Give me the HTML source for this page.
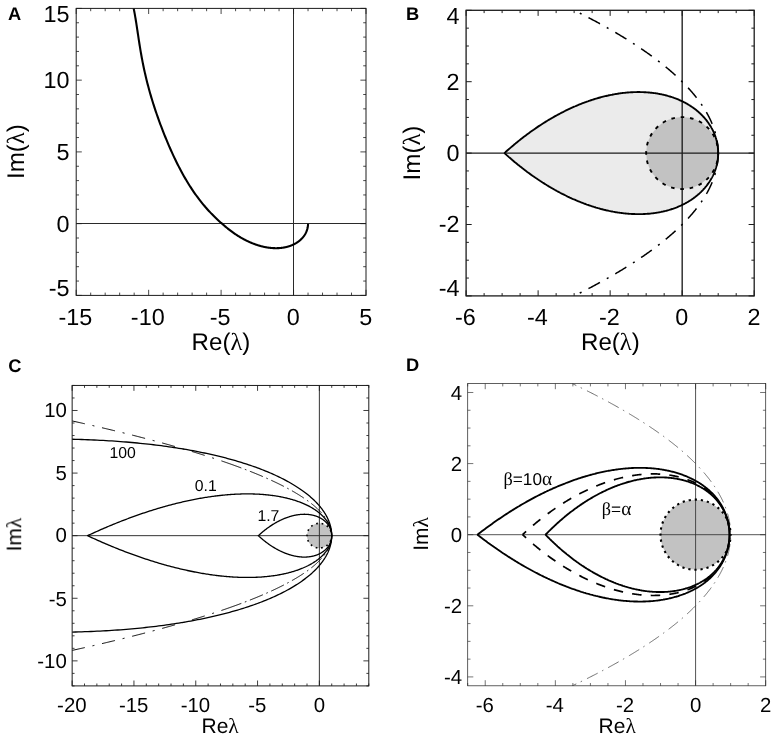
<!DOCTYPE html>
<html lang="en"><head><meta charset="utf-8"><title>Figure</title>
<style>html,body{margin:0;padding:0;background:#fff;}body{width:776px;height:740px;overflow:hidden;}svg{display:block;}</style>
</head><body>
<svg width="776" height="740" viewBox="0 0 776 740">
<defs>
<clipPath id="clipA"><rect x="76.2" y="8.4" width="289.80" height="287.00"/></clipPath>
<clipPath id="clipB"><rect x="466.1" y="10.3" width="288.10" height="285.60"/></clipPath>
<clipPath id="clipC"><rect x="72.15" y="385.45" width="296.65" height="300.45"/></clipPath>
<clipPath id="clipD"><rect x="467.7" y="383.6" width="298.00" height="302.20"/></clipPath>
</defs>
<rect width="776" height="740" fill="#fff"/>
<g id="panelA">
<g clip-path="url(#clipA)">
<path d="M76.2,223.5H366.0M293.5,8.4V295.4" stroke="#2a2a2a" stroke-width="1.0" fill="none"/>
<path d="M308.04,223.65 L308.04,223.81 L308.04,223.98 L308.03,224.14 L308.03,224.30 L308.02,224.46 L308.02,224.63 L308.01,224.79 L308.00,224.95 L307.99,225.11 L307.97,225.28 L307.96,225.44 L307.95,225.60 L307.93,225.76 L307.91,225.93 L307.89,226.09 L307.87,226.25 L307.85,226.41 L307.83,226.58 L307.80,226.74 L307.78,226.90 L307.75,227.06 L307.72,227.22 L307.69,227.38 L307.66,227.54 L307.63,227.70 L307.60,227.87 L307.56,228.03 L307.52,228.19 L307.49,228.35 L307.45,228.51 L307.41,228.67 L307.37,228.83 L307.32,228.99 L307.28,229.14 L307.23,229.30 L307.19,229.46 L307.14,229.62 L307.09,229.78 L307.04,229.94 L306.99,230.10 L306.94,230.25 L306.88,230.41 L306.83,230.57 L306.77,230.72 L306.71,230.88 L306.65,231.04 L306.59,231.19 L306.53,231.35 L306.46,231.50 L306.40,231.66 L306.33,231.81 L306.27,231.97 L306.20,232.12 L306.13,232.27 L306.06,232.43 L305.98,232.58 L305.91,232.73 L305.83,232.88 L305.76,233.04 L305.68,233.19 L305.60,233.34 L305.52,233.49 L305.44,233.64 L305.36,233.79 L305.27,233.94 L305.19,234.09 L305.10,234.24 L305.01,234.38 L304.92,234.53 L304.83,234.68 L304.74,234.83 L304.65,234.97 L304.55,235.12 L304.46,235.26 L304.36,235.41 L304.26,235.55 L304.16,235.70 L304.06,235.84 L303.96,235.98 L303.86,236.13 L303.75,236.27 L303.65,236.41 L303.54,236.55 L303.43,236.69 L303.32,236.83 L303.21,236.97 L303.10,237.11 L302.99,237.25 L302.87,237.38 L302.76,237.52 L302.64,237.66 L302.52,237.79 L302.40,237.93 L302.28,238.06 L302.16,238.20 L302.04,238.33 L301.91,238.46 L301.79,238.59 L301.66,238.73 L301.53,238.86 L301.40,238.99 L301.27,239.12 L301.14,239.25 L301.01,239.37 L300.87,239.50 L300.74,239.63 L300.60,239.75 L300.46,239.88 L300.32,240.01 L300.18,240.13 L300.04,240.25 L299.90,240.38 L299.76,240.50 L299.61,240.62 L299.46,240.74 L299.32,240.86 L299.17,240.98 L299.02,241.10 L298.87,241.21 L298.71,241.33 L298.56,241.45 L298.41,241.56 L298.25,241.68 L298.09,241.79 L297.94,241.90 L297.78,242.02 L297.62,242.13 L297.45,242.24 L297.29,242.35 L297.13,242.46 L296.96,242.57 L296.80,242.67 L296.63,242.78 L296.46,242.88 L296.29,242.99 L296.12,243.09 L295.95,243.20 L295.77,243.30 L295.60,243.40 L295.42,243.50 L295.25,243.60 L295.07,243.70 L294.89,243.80 L294.71,243.89 L294.53,243.99 L294.35,244.08 L294.16,244.18 L293.98,244.27 L293.79,244.36 L293.61,244.45 L293.42,244.54 L293.23,244.63 L293.04,244.72 L292.85,244.81 L292.66,244.90 L292.46,244.98 L292.27,245.07 L292.07,245.15 L291.88,245.23 L291.68,245.31 L291.48,245.39 L291.28,245.47 L291.08,245.55 L290.88,245.63 L290.67,245.70 L290.47,245.78 L290.26,245.85 L290.06,245.93 L289.85,246.00 L289.64,246.07 L289.43,246.14 L289.22,246.21 L289.01,246.28 L288.79,246.34 L288.58,246.41 L288.37,246.47 L288.15,246.54 L287.93,246.60 L287.72,246.66 L287.50,246.72 L287.28,246.78 L287.06,246.84 L286.83,246.90 L286.61,246.95 L286.39,247.01 L286.16,247.06 L285.94,247.11 L285.71,247.16 L285.48,247.21 L285.25,247.26 L285.02,247.31 L284.79,247.36 L284.56,247.40 L284.32,247.44 L284.09,247.49 L283.86,247.53 L283.62,247.57 L283.38,247.61 L283.14,247.65 L282.91,247.68 L282.67,247.72 L282.43,247.75 L282.18,247.78 L281.94,247.82 L281.70,247.85 L281.45,247.88 L281.21,247.90 L280.96,247.93 L280.71,247.96 L280.47,247.98 L280.22,248.00 L279.97,248.02 L279.71,248.04 L279.46,248.06 L279.21,248.08 L278.96,248.10 L278.70,248.11 L278.45,248.12 L278.19,248.14 L277.93,248.15 L277.67,248.16 L277.42,248.16 L277.16,248.17 L276.89,248.18 L276.63,248.18 L276.37,248.18 L276.11,248.18 L275.84,248.18 L275.58,248.18 L275.31,248.18 L275.04,248.18 L274.78,248.17 L274.51,248.16 L274.24,248.15 L273.97,248.14 L273.70,248.13 L273.43,248.12 L273.15,248.11 L272.88,248.09 L272.61,248.07 L272.33,248.05 L272.05,248.03 L271.78,248.01 L271.50,247.99 L271.22,247.97 L270.94,247.94 L270.66,247.91 L270.38,247.88 L270.10,247.85 L269.82,247.82 L269.54,247.79 L269.25,247.75 L268.97,247.72 L268.68,247.68 L268.40,247.64 L268.11,247.60 L267.82,247.55 L267.54,247.51 L267.25,247.46 L266.96,247.42 L266.67,247.37 L266.38,247.32 L266.09,247.27 L265.79,247.21 L265.50,247.16 L265.21,247.10 L264.91,247.04 L264.62,246.98 L264.32,246.92 L264.03,246.86 L263.73,246.79 L263.43,246.73 L263.13,246.66 L262.83,246.59 L262.53,246.52 L262.23,246.45 L261.93,246.37 L261.63,246.30 L261.33,246.22 L261.03,246.14 L260.72,246.06 L260.42,245.97 L260.11,245.89 L259.81,245.80 L259.50,245.72 L259.20,245.63 L258.89,245.54 L258.58,245.44 L258.27,245.35 L257.96,245.25 L257.65,245.16 L257.34,245.06 L257.03,244.96 L256.72,244.85 L256.41,244.75 L256.10,244.64 L255.79,244.53 L255.47,244.42 L255.16,244.31 L254.85,244.20 L254.53,244.08 L254.21,243.97 L253.90,243.85 L253.58,243.73 L253.27,243.61 L252.95,243.48 L252.63,243.36 L252.31,243.23 L251.99,243.10 L251.67,242.97 L251.35,242.84 L251.03,242.70 L250.71,242.56 L250.39,242.43 L250.07,242.29 L249.75,242.14 L249.43,242.00 L249.10,241.86 L248.78,241.71 L248.46,241.56 L248.13,241.41 L247.81,241.26 L247.48,241.10 L247.16,240.94 L246.83,240.79 L246.51,240.63 L246.18,240.46 L245.85,240.30 L245.52,240.13 L245.20,239.97 L244.87,239.80 L244.54,239.63 L244.21,239.45 L243.88,239.28 L243.55,239.10 L243.22,238.92 L242.89,238.74 L242.56,238.56 L242.23,238.37 L241.90,238.19 L241.57,238.00 L241.24,237.81 L240.91,237.62 L240.58,237.42 L240.24,237.22 L239.91,237.03 L239.58,236.83 L239.24,236.62 L238.91,236.42 L238.58,236.21 L238.24,236.01 L237.91,235.80 L237.57,235.58 L237.24,235.37 L236.91,235.16 L236.57,234.94 L236.23,234.72 L235.90,234.50 L235.56,234.27 L235.23,234.05 L234.89,233.82 L234.56,233.59 L234.22,233.36 L233.88,233.12 L233.55,232.89 L233.21,232.65 L232.87,232.41 L232.53,232.17 L232.20,231.93 L231.86,231.68 L231.52,231.43 L231.18,231.18 L230.85,230.93 L230.51,230.68 L230.17,230.42 L229.83,230.16 L229.49,229.90 L229.16,229.64 L228.82,229.37 L228.48,229.11 L228.14,228.84 L227.80,228.57 L227.46,228.30 L227.12,228.02 L226.79,227.75 L226.45,227.47 L226.11,227.19 L225.77,226.90 L225.43,226.62 L225.09,226.33 L224.75,226.04 L224.42,225.75 L224.08,225.46 L223.74,225.16 L223.40,224.86 L223.06,224.56 L222.72,224.26 L222.38,223.96 L222.04,223.65 L221.13,222.92 L220.30,222.18 L219.49,221.45 L218.68,220.71 L217.89,219.98 L217.10,219.24 L216.33,218.51 L215.56,217.78 L214.81,217.04 L214.06,216.31 L213.32,215.57 L212.60,214.84 L211.88,214.10 L211.17,213.37 L210.47,212.64 L209.78,211.90 L209.10,211.17 L208.42,210.43 L207.75,209.70 L207.10,208.96 L206.45,208.23 L205.80,207.50 L205.17,206.76 L204.54,206.03 L203.92,205.29 L203.30,204.56 L202.70,203.82 L202.10,203.09 L201.51,202.36 L200.92,201.62 L200.34,200.89 L199.77,200.15 L199.20,199.42 L198.64,198.68 L198.09,197.95 L197.54,197.22 L197.00,196.48 L196.46,195.75 L195.93,195.01 L195.40,194.28 L194.88,193.54 L194.37,192.81 L193.86,192.08 L193.35,191.34 L192.86,190.61 L192.36,189.87 L191.87,189.14 L191.39,188.40 L190.91,187.67 L190.43,186.94 L189.96,186.20 L189.49,185.47 L189.03,184.73 L188.57,184.00 L188.12,183.26 L187.67,182.53 L187.22,181.80 L186.78,181.06 L186.34,180.33 L185.91,179.59 L185.48,178.86 L185.05,178.12 L184.63,177.39 L184.21,176.65 L183.79,175.92 L183.38,175.19 L182.97,174.45 L182.56,173.72 L182.16,172.98 L181.76,172.25 L181.36,171.51 L180.96,170.78 L180.57,170.05 L180.18,169.31 L179.80,168.58 L179.41,167.84 L179.03,167.11 L178.66,166.37 L178.28,165.64 L177.91,164.91 L177.54,164.17 L177.17,163.44 L176.81,162.70 L176.44,161.97 L176.08,161.23 L175.73,160.50 L175.37,159.77 L175.02,159.03 L174.66,158.30 L174.32,157.56 L173.97,156.83 L173.62,156.09 L173.28,155.36 L172.94,154.63 L172.60,153.89 L172.26,153.16 L171.93,152.42 L171.60,151.69 L171.26,150.95 L170.94,150.22 L170.61,149.49 L170.28,148.75 L169.96,148.02 L169.64,147.28 L169.32,146.55 L169.00,145.81 L168.68,145.08 L168.37,144.35 L168.05,143.61 L167.74,142.88 L167.43,142.14 L167.12,141.41 L166.81,140.67 L166.51,139.94 L166.20,139.21 L165.90,138.47 L165.60,137.74 L165.30,137.00 L165.00,136.27 L164.71,135.53 L164.41,134.80 L164.12,134.07 L163.83,133.33 L163.54,132.60 L163.25,131.86 L162.96,131.13 L162.68,130.39 L162.39,129.66 L162.11,128.93 L161.83,128.19 L161.55,127.46 L161.27,126.72 L160.99,125.99 L160.72,125.25 L160.44,124.52 L160.17,123.79 L159.90,123.05 L159.63,122.32 L159.36,121.58 L159.09,120.85 L158.83,120.11 L158.56,119.38 L158.30,118.65 L158.04,117.91 L157.78,117.18 L157.52,116.44 L157.26,115.71 L157.01,114.97 L156.75,114.24 L156.50,113.51 L156.25,112.77 L156.00,112.04 L155.75,111.30 L155.50,110.57 L155.26,109.83 L155.01,109.10 L154.77,108.37 L154.53,107.63 L154.29,106.90 L154.05,106.16 L153.82,105.43 L153.58,104.69 L153.35,103.96 L153.12,103.23 L152.89,102.49 L152.66,101.76 L152.43,101.02 L152.20,100.29 L151.98,99.55 L151.76,98.82 L151.53,98.09 L151.31,97.35 L151.10,96.62 L150.88,95.88 L150.66,95.15 L150.45,94.41 L150.24,93.68 L150.03,92.95 L149.82,92.21 L149.61,91.48 L149.41,90.74 L149.20,90.01 L149.00,89.27 L148.80,88.54 L148.60,87.80 L148.40,87.07 L148.21,86.34 L148.01,85.60 L147.82,84.87 L147.63,84.13 L147.44,83.40 L147.25,82.66 L147.06,81.93 L146.88,81.20 L146.70,80.46 L146.51,79.73 L146.33,78.99 L146.16,78.26 L145.98,77.52 L145.80,76.79 L145.63,76.06 L145.46,75.32 L145.29,74.59 L145.12,73.85 L144.95,73.12 L144.78,72.38 L144.62,71.65 L144.46,70.92 L144.30,70.18 L144.14,69.45 L143.98,68.71 L143.82,67.98 L143.67,67.24 L143.51,66.51 L143.36,65.78 L143.21,65.04 L143.06,64.31 L142.92,63.57 L142.77,62.84 L142.62,62.10 L142.48,61.37 L142.34,60.64 L142.20,59.90 L142.06,59.17 L141.92,58.43 L141.78,57.70 L141.65,56.96 L141.52,56.23 L141.38,55.50 L141.25,54.76 L141.12,54.03 L140.99,53.29 L140.86,52.56 L140.74,51.82 L140.61,51.09 L140.49,50.36 L140.36,49.62 L140.24,48.89 L140.12,48.15 L140.00,47.42 L139.88,46.68 L139.76,45.95 L139.64,45.22 L139.53,44.48 L139.41,43.75 L139.29,43.01 L139.18,42.28 L139.06,41.54 L138.95,40.81 L138.84,40.08 L138.72,39.34 L138.61,38.61 L138.50,37.87 L138.39,37.14 L138.28,36.40 L138.17,35.67 L138.06,34.94 L137.95,34.20 L137.84,33.47 L137.73,32.73 L137.62,32.00 L137.51,31.26 L137.40,30.53 L137.29,29.80 L137.18,29.06 L137.07,28.33 L136.95,27.59 L136.84,26.86 L136.73,26.12 L136.62,25.39 L136.50,24.66 L136.39,23.92 L136.28,23.19 L136.16,22.45 L136.04,21.72 L135.93,20.98 L135.81,20.25 L135.69,19.52 L135.57,18.78 L135.44,18.05 L135.32,17.31 L135.19,16.58 L135.07,15.84 L134.94,15.11 L134.81,14.38 L134.68,13.64 L134.54,12.91 L134.40,12.17 L134.27,11.44 L134.13,10.70 L133.98,9.97 L133.84,9.24 L133.69,8.50 L133.54,7.77 L133.38,7.03 L133.23,6.30 L133.07,5.56 L132.90,4.83 L132.74,4.09" fill="none" stroke="#000" stroke-width="2.1" stroke-linejoin="round"/>
</g>
<rect x="76.2" y="8.4" width="289.80" height="287.00" fill="none" stroke="#1c1c1c" stroke-width="1.0"/>
<path d="M76.20,295.4v-5.6M76.20,8.4v5.6M148.65,295.4v-5.6M148.65,8.4v5.6M221.10,295.4v-5.6M221.10,8.4v5.6M293.55,295.4v-5.6M293.55,8.4v5.6M366.00,295.4v-5.6M366.00,8.4v5.6M90.69,295.4v-2.8M90.69,8.4v2.8M105.18,295.4v-2.8M105.18,8.4v2.8M119.67,295.4v-2.8M119.67,8.4v2.8M134.16,295.4v-2.8M134.16,8.4v2.8M163.14,295.4v-2.8M163.14,8.4v2.8M177.63,295.4v-2.8M177.63,8.4v2.8M192.12,295.4v-2.8M192.12,8.4v2.8M206.61,295.4v-2.8M206.61,8.4v2.8M235.59,295.4v-2.8M235.59,8.4v2.8M250.08,295.4v-2.8M250.08,8.4v2.8M264.57,295.4v-2.8M264.57,8.4v2.8M279.06,295.4v-2.8M279.06,8.4v2.8M308.04,295.4v-2.8M308.04,8.4v2.8M322.53,295.4v-2.8M322.53,8.4v2.8M337.02,295.4v-2.8M337.02,8.4v2.8M351.51,295.4v-2.8M351.51,8.4v2.8M76.2,295.40h5.6M366.0,295.40h-5.6M76.2,223.65h5.6M366.0,223.65h-5.6M76.2,151.90h5.6M366.0,151.90h-5.6M76.2,80.15h5.6M366.0,80.15h-5.6M76.2,8.40h5.6M366.0,8.40h-5.6M76.2,281.05h2.8M366.0,281.05h-2.8M76.2,266.70h2.8M366.0,266.70h-2.8M76.2,252.35h2.8M366.0,252.35h-2.8M76.2,238.00h2.8M366.0,238.00h-2.8M76.2,209.30h2.8M366.0,209.30h-2.8M76.2,194.95h2.8M366.0,194.95h-2.8M76.2,180.60h2.8M366.0,180.60h-2.8M76.2,166.25h2.8M366.0,166.25h-2.8M76.2,137.55h2.8M366.0,137.55h-2.8M76.2,123.20h2.8M366.0,123.20h-2.8M76.2,108.85h2.8M366.0,108.85h-2.8M76.2,94.50h2.8M366.0,94.50h-2.8M76.2,65.80h2.8M366.0,65.80h-2.8M76.2,51.45h2.8M366.0,51.45h-2.8M76.2,37.10h2.8M366.0,37.10h-2.8M76.2,22.75h2.8M366.0,22.75h-2.8" fill="none" stroke="#1c1c1c" stroke-width="0.8"/>
</g>
<g id="panelB">
<g clip-path="url(#clipB)">
<path d="M504.46,153.10 L505.58,152.08 L506.71,151.07 L507.83,150.08 L508.95,149.09 L510.08,148.11 L511.20,147.14 L512.32,146.18 L513.45,145.24 L514.57,144.29 L515.69,143.36 L516.82,142.44 L517.94,141.53 L519.06,140.63 L520.18,139.73 L521.31,138.85 L522.43,137.97 L523.55,137.10 L524.67,136.25 L525.79,135.40 L526.91,134.56 L528.03,133.73 L529.15,132.91 L530.27,132.09 L531.39,131.29 L532.51,130.49 L533.63,129.71 L534.74,128.93 L535.86,128.16 L536.97,127.41 L538.09,126.65 L539.20,125.91 L540.31,125.18 L541.42,124.46 L542.53,123.74 L543.64,123.04 L544.75,122.34 L545.86,121.65 L546.97,120.97 L548.07,120.30 L549.18,119.63 L550.28,118.98 L551.38,118.33 L552.48,117.70 L553.58,117.07 L554.68,116.45 L555.77,115.84 L556.87,115.23 L557.96,114.64 L559.05,114.05 L560.14,113.47 L561.23,112.90 L562.32,112.34 L563.41,111.79 L564.49,111.24 L565.57,110.71 L566.65,110.18 L567.73,109.66 L568.81,109.15 L569.89,108.64 L570.96,108.15 L572.03,107.66 L573.10,107.18 L574.17,106.71 L575.24,106.25 L576.30,105.79 L577.36,105.34 L578.42,104.91 L579.48,104.47 L580.54,104.05 L581.59,103.64 L582.64,103.23 L583.69,102.83 L584.74,102.44 L585.78,102.05 L586.83,101.67 L587.87,101.31 L588.91,100.94 L589.94,100.59 L590.97,100.24 L592.00,99.91 L593.03,99.58 L594.06,99.25 L595.08,98.94 L596.10,98.63 L597.12,98.33 L598.14,98.03 L599.15,97.75 L600.16,97.47 L601.17,97.20 L602.17,96.94 L603.17,96.68 L604.17,96.43 L605.17,96.19 L606.16,95.95 L607.15,95.73 L608.14,95.51 L609.12,95.29 L610.10,95.09 L611.08,94.89 L612.06,94.70 L613.03,94.51 L614.00,94.33 L614.97,94.16 L615.93,94.00 L616.89,93.84 L617.85,93.69 L618.80,93.55 L619.75,93.41 L620.70,93.28 L621.64,93.16 L622.58,93.04 L623.52,92.93 L624.45,92.83 L625.38,92.73 L626.31,92.64 L627.23,92.56 L628.15,92.48 L629.07,92.41 L629.98,92.35 L630.89,92.29 L631.80,92.24 L632.70,92.20 L633.60,92.16 L634.50,92.13 L635.39,92.10 L636.28,92.08 L637.16,92.07 L638.04,92.06 L638.92,92.06 L639.79,92.07 L640.66,92.08 L641.52,92.10 L642.38,92.12 L643.24,92.15 L644.10,92.19 L644.94,92.23 L645.79,92.28 L646.63,92.33 L647.47,92.39 L648.30,92.45 L649.13,92.52 L649.96,92.60 L650.78,92.68 L651.60,92.77 L652.41,92.87 L653.22,92.97 L654.02,93.07 L654.82,93.18 L655.62,93.30 L656.41,93.42 L657.20,93.55 L657.98,93.68 L658.76,93.82 L659.54,93.96 L660.31,94.11 L661.08,94.26 L661.84,94.42 L662.60,94.58 L663.35,94.75 L664.10,94.93 L664.84,95.11 L665.58,95.29 L666.32,95.48 L667.05,95.68 L667.77,95.88 L668.50,96.08 L669.21,96.29 L669.93,96.51 L670.63,96.73 L671.34,96.95 L672.03,97.18 L672.73,97.41 L673.42,97.65 L674.10,97.90 L674.78,98.14 L675.46,98.40 L676.13,98.65 L676.79,98.91 L677.45,99.18 L678.11,99.45 L678.76,99.73 L679.41,100.01 L680.05,100.29 L680.69,100.58 L681.32,100.87 L681.94,101.17 L682.57,101.47 L683.18,101.77 L683.80,102.08 L684.40,102.40 L685.00,102.71 L685.60,103.03 L686.19,103.36 L686.78,103.69 L687.36,104.02 L687.94,104.36 L688.51,104.70 L689.08,105.05 L689.64,105.39 L690.20,105.75 L690.75,106.10 L691.29,106.46 L691.83,106.83 L692.37,107.19 L692.90,107.56 L693.43,107.94 L693.95,108.32 L694.46,108.70 L694.97,109.08 L695.48,109.47 L695.98,109.86 L696.47,110.26 L696.96,110.66 L697.44,111.06 L697.92,111.46 L698.39,111.87 L698.86,112.28 L699.32,112.69 L699.78,113.11 L700.23,113.53 L700.68,113.95 L701.12,114.38 L701.55,114.81 L701.98,115.24 L702.41,115.68 L702.83,116.11 L703.24,116.55 L703.65,117.00 L704.05,117.44 L704.45,117.89 L704.84,118.34 L705.23,118.80 L705.61,119.25 L705.98,119.71 L706.35,120.17 L706.71,120.63 L707.07,121.10 L707.43,121.57 L707.77,122.04 L708.12,122.51 L708.45,122.99 L708.78,123.47 L709.11,123.94 L709.43,124.43 L709.74,124.91 L710.05,125.40 L710.35,125.88 L710.65,126.37 L710.94,126.87 L711.22,127.36 L711.50,127.86 L711.78,128.35 L712.05,128.85 L712.31,129.35 L712.57,129.86 L712.82,130.36 L713.07,130.87 L713.31,131.37 L713.54,131.88 L713.77,132.39 L713.99,132.91 L714.21,133.42 L714.42,133.93 L714.63,134.45 L714.83,134.97 L715.02,135.49 L715.21,136.01 L715.39,136.53 L715.57,137.05 L715.74,137.58 L715.91,138.10 L716.07,138.63 L716.22,139.16 L716.37,139.68 L716.51,140.21 L716.65,140.74 L716.78,141.27 L716.90,141.81 L717.02,142.34 L717.14,142.87 L717.24,143.41 L717.35,143.94 L717.44,144.48 L717.53,145.01 L717.62,145.55 L717.70,146.09 L717.77,146.62 L717.83,147.16 L717.90,147.70 L717.95,148.24 L718.00,148.78 L718.04,149.32 L718.08,149.86 L718.11,150.40 L718.14,150.94 L718.16,151.48 L718.18,152.02 L718.18,152.56 L718.19,153.10 L718.18,153.64 L718.18,154.18 L718.16,154.72 L718.14,155.26 L718.11,155.80 L718.08,156.34 L718.04,156.88 L718.00,157.42 L717.95,157.96 L717.90,158.50 L717.83,159.04 L717.77,159.58 L717.70,160.11 L717.62,160.65 L717.53,161.19 L717.44,161.72 L717.35,162.26 L717.24,162.79 L717.14,163.33 L717.02,163.86 L716.90,164.39 L716.78,164.93 L716.65,165.46 L716.51,165.99 L716.37,166.52 L716.22,167.04 L716.07,167.57 L715.91,168.10 L715.74,168.62 L715.57,169.15 L715.39,169.67 L715.21,170.19 L715.02,170.71 L714.83,171.23 L714.63,171.75 L714.42,172.27 L714.21,172.78 L713.99,173.29 L713.77,173.81 L713.54,174.32 L713.31,174.83 L713.07,175.33 L712.82,175.84 L712.57,176.34 L712.31,176.85 L712.05,177.35 L711.78,177.85 L711.50,178.34 L711.22,178.84 L710.94,179.33 L710.65,179.83 L710.35,180.32 L710.05,180.80 L709.74,181.29 L709.43,181.77 L709.11,182.26 L708.78,182.73 L708.45,183.21 L708.12,183.69 L707.77,184.16 L707.43,184.63 L707.07,185.10 L706.71,185.57 L706.35,186.03 L705.98,186.49 L705.61,186.95 L705.23,187.40 L704.84,187.86 L704.45,188.31 L704.05,188.76 L703.65,189.20 L703.24,189.65 L702.83,190.09 L702.41,190.52 L701.98,190.96 L701.55,191.39 L701.12,191.82 L700.68,192.25 L700.23,192.67 L699.78,193.09 L699.32,193.51 L698.86,193.92 L698.39,194.33 L697.92,194.74 L697.44,195.14 L696.96,195.54 L696.47,195.94 L695.98,196.34 L695.48,196.73 L694.97,197.12 L694.46,197.50 L693.95,197.88 L693.43,198.26 L692.90,198.64 L692.37,199.01 L691.83,199.37 L691.29,199.74 L690.75,200.10 L690.20,200.45 L689.64,200.81 L689.08,201.15 L688.51,201.50 L687.94,201.84 L687.36,202.18 L686.78,202.51 L686.19,202.84 L685.60,203.17 L685.00,203.49 L684.40,203.80 L683.80,204.12 L683.18,204.43 L682.57,204.73 L681.94,205.03 L681.32,205.33 L680.69,205.62 L680.05,205.91 L679.41,206.19 L678.76,206.47 L678.11,206.75 L677.45,207.02 L676.79,207.29 L676.13,207.55 L675.46,207.80 L674.78,208.06 L674.10,208.30 L673.42,208.55 L672.73,208.79 L672.03,209.02 L671.34,209.25 L670.63,209.47 L669.93,209.69 L669.21,209.91 L668.50,210.12 L667.77,210.32 L667.05,210.52 L666.32,210.72 L665.58,210.91 L664.84,211.09 L664.10,211.27 L663.35,211.45 L662.60,211.62 L661.84,211.78 L661.08,211.94 L660.31,212.09 L659.54,212.24 L658.76,212.38 L657.98,212.52 L657.20,212.65 L656.41,212.78 L655.62,212.90 L654.82,213.02 L654.02,213.13 L653.22,213.23 L652.41,213.33 L651.60,213.43 L650.78,213.52 L649.96,213.60 L649.13,213.68 L648.30,213.75 L647.47,213.81 L646.63,213.87 L645.79,213.92 L644.94,213.97 L644.10,214.01 L643.24,214.05 L642.38,214.08 L641.52,214.10 L640.66,214.12 L639.79,214.13 L638.92,214.14 L638.04,214.14 L637.16,214.13 L636.28,214.12 L635.39,214.10 L634.50,214.07 L633.60,214.04 L632.70,214.00 L631.80,213.96 L630.89,213.91 L629.98,213.85 L629.07,213.79 L628.15,213.72 L627.23,213.64 L626.31,213.56 L625.38,213.47 L624.45,213.37 L623.52,213.27 L622.58,213.16 L621.64,213.04 L620.70,212.92 L619.75,212.79 L618.80,212.65 L617.85,212.51 L616.89,212.36 L615.93,212.20 L614.97,212.04 L614.00,211.87 L613.03,211.69 L612.06,211.50 L611.08,211.31 L610.10,211.11 L609.12,210.91 L608.14,210.69 L607.15,210.47 L606.16,210.25 L605.17,210.01 L604.17,209.77 L603.17,209.52 L602.17,209.26 L601.17,209.00 L600.16,208.73 L599.15,208.45 L598.14,208.17 L597.12,207.87 L596.10,207.57 L595.08,207.26 L594.06,206.95 L593.03,206.62 L592.00,206.29 L590.97,205.96 L589.94,205.61 L588.91,205.26 L587.87,204.89 L586.83,204.53 L585.78,204.15 L584.74,203.76 L583.69,203.37 L582.64,202.97 L581.59,202.56 L580.54,202.15 L579.48,201.73 L578.42,201.29 L577.36,200.86 L576.30,200.41 L575.24,199.95 L574.17,199.49 L573.10,199.02 L572.03,198.54 L570.96,198.05 L569.89,197.56 L568.81,197.05 L567.73,196.54 L566.65,196.02 L565.57,195.49 L564.49,194.96 L563.41,194.41 L562.32,193.86 L561.23,193.30 L560.14,192.73 L559.05,192.15 L557.96,191.56 L556.87,190.97 L555.77,190.36 L554.68,189.75 L553.58,189.13 L552.48,188.50 L551.38,187.87 L550.28,187.22 L549.18,186.57 L548.07,185.90 L546.97,185.23 L545.86,184.55 L544.75,183.86 L543.64,183.16 L542.53,182.46 L541.42,181.74 L540.31,181.02 L539.20,180.29 L538.09,179.55 L536.97,178.79 L535.86,178.04 L534.74,177.27 L533.63,176.49 L532.51,175.71 L531.39,174.91 L530.27,174.11 L529.15,173.29 L528.03,172.47 L526.91,171.64 L525.79,170.80 L524.67,169.95 L523.55,169.10 L522.43,168.23 L521.31,167.35 L520.18,166.47 L519.06,165.57 L517.94,164.67 L516.82,163.76 L515.69,162.84 L514.57,161.91 L513.45,160.96 L512.32,160.02 L511.20,159.06 L510.08,158.09 L508.95,157.11 L507.83,156.12 L506.71,155.13 L505.58,154.12 L504.46,153.10Z" fill="#ebebeb" stroke="none"/>
<circle cx="682.18" cy="153.10" r="36.01" fill="#c2c2c2" stroke="none"/>
<path d="M466.1,153.10H754.2M682.18,10.3V295.9" stroke="#1c1c1c" stroke-width="1.35" fill="none"/>
<circle cx="682.18" cy="153.10" r="36.01" fill="none" stroke="#000" stroke-width="1.9" stroke-dasharray="3.600 5.828" stroke-dashoffset="1.800"/>
<path d="M574.14,10.30 L575.29,10.87 L576.44,11.45 L577.59,12.02 L578.73,12.59 L579.86,13.17 L581.00,13.74 L582.12,14.31 L583.25,14.89 L584.36,15.46 L585.48,16.03 L586.58,16.61 L587.69,17.18 L588.79,17.76 L589.88,18.33 L590.97,18.90 L592.06,19.48 L593.14,20.05 L594.21,20.62 L595.28,21.20 L596.35,21.77 L597.41,22.34 L598.47,22.92 L599.52,23.49 L600.57,24.06 L601.61,24.64 L602.65,25.21 L603.68,25.78 L604.71,26.36 L605.74,26.93 L606.76,27.50 L607.77,28.08 L608.78,28.65 L609.79,29.23 L610.79,29.80 L611.79,30.37 L612.78,30.95 L613.77,31.52 L614.75,32.09 L615.73,32.67 L616.70,33.24 L617.67,33.81 L618.63,34.39 L619.59,34.96 L620.55,35.53 L621.50,36.11 L622.44,36.68 L623.39,37.25 L624.32,37.83 L625.25,38.40 L626.18,38.97 L627.10,39.55 L628.02,40.12 L628.93,40.70 L629.84,41.27 L630.75,41.84 L631.65,42.42 L632.54,42.99 L633.43,43.56 L634.31,44.14 L635.20,44.71 L636.07,45.28 L636.94,45.86 L637.81,46.43 L638.67,47.00 L639.53,47.58 L640.38,48.15 L641.23,48.72 L642.07,49.30 L642.91,49.87 L643.75,50.44 L644.57,51.02 L645.40,51.59 L646.22,52.17 L647.03,52.74 L647.85,53.31 L648.65,53.89 L649.45,54.46 L650.25,55.03 L651.04,55.61 L651.83,56.18 L652.61,56.75 L653.39,57.33 L654.17,57.90 L654.93,58.47 L655.70,59.05 L656.46,59.62 L657.21,60.19 L657.96,60.77 L658.71,61.34 L659.45,61.91 L660.19,62.49 L660.92,63.06 L661.65,63.63 L662.37,64.21 L663.09,64.78 L663.80,65.36 L664.51,65.93 L665.21,66.50 L665.91,67.08 L666.61,67.65 L667.30,68.22 L667.98,68.80 L668.66,69.37 L669.34,69.94 L670.01,70.52 L670.68,71.09 L671.34,71.66 L672.00,72.24 L672.65,72.81 L673.30,73.38 L673.94,73.96 L674.58,74.53 L675.21,75.10 L675.84,75.68 L676.47,76.25 L677.09,76.83 L677.71,77.40 L678.32,77.97 L678.92,78.55 L679.52,79.12 L680.12,79.69 L680.71,80.27 L681.30,80.84 L681.89,81.41 L682.46,81.99 L683.04,82.56 L683.61,83.13 L684.17,83.71 L684.73,84.28 L685.29,84.85 L685.84,85.43 L686.38,86.00 L686.92,86.57 L687.46,87.15 L687.99,87.72 L688.52,88.30 L689.04,88.87 L689.56,89.44 L690.07,90.02 L690.58,90.59 L691.09,91.16 L691.59,91.74 L692.08,92.31 L692.57,92.88 L693.06,93.46 L693.54,94.03 L694.02,94.60 L694.49,95.18 L694.95,95.75 L695.42,96.32 L695.87,96.90 L696.33,97.47 L696.78,98.04 L697.22,98.62 L697.66,99.19 L698.09,99.77 L698.52,100.34 L698.95,100.91 L699.37,101.49 L699.78,102.06 L700.20,102.63 L700.60,103.21 L701.00,103.78 L701.40,104.35 L701.79,104.93 L702.18,105.50 L702.57,106.07 L702.94,106.65 L703.32,107.22 L703.69,107.79 L704.05,108.37 L704.41,108.94 L704.77,109.51 L705.12,110.09 L705.46,110.66 L705.81,111.23 L706.14,111.81 L706.48,112.38 L706.80,112.96 L707.13,113.53 L707.44,114.10 L707.76,114.68 L708.07,115.25 L708.37,115.82 L708.67,116.40 L708.97,116.97 L709.26,117.54 L709.54,118.12 L709.82,118.69 L710.10,119.26 L710.37,119.84 L710.64,120.41 L710.90,120.98 L711.16,121.56 L711.41,122.13 L711.66,122.70 L711.91,123.28 L712.14,123.85 L712.38,124.43 L712.61,125.00 L712.83,125.57 L713.06,126.15 L713.27,126.72 L713.48,127.29 L713.69,127.87 L713.89,128.44 L714.09,129.01 L714.28,129.59 L714.47,130.16 L714.65,130.73 L714.83,131.31 L715.01,131.88 L715.18,132.45 L715.34,133.03 L715.50,133.60 L715.66,134.17 L715.81,134.75 L715.95,135.32 L716.10,135.90 L716.23,136.47 L716.37,137.04 L716.49,137.62 L716.62,138.19 L716.74,138.76 L716.85,139.34 L716.96,139.91 L717.06,140.48 L717.16,141.06 L717.26,141.63 L717.35,142.20 L717.43,142.78 L717.52,143.35 L717.59,143.92 L717.66,144.50 L717.73,145.07 L717.79,145.64 L717.85,146.22 L717.91,146.79 L717.96,147.37 L718.00,147.94 L718.04,148.51 L718.07,149.09 L718.10,149.66 L718.13,150.23 L718.15,150.81 L718.17,151.38 L718.18,151.95 L718.19,152.53 L718.19,153.10" fill="none" stroke="#000" stroke-width="1.5" stroke-dasharray="13 7.8 2 7.8" stroke-dashoffset="14.5"/>
<path d="M574.14,295.90 L575.29,295.33 L576.44,294.75 L577.59,294.18 L578.73,293.61 L579.86,293.03 L581.00,292.46 L582.12,291.89 L583.25,291.31 L584.36,290.74 L585.48,290.17 L586.58,289.59 L587.69,289.02 L588.79,288.44 L589.88,287.87 L590.97,287.30 L592.06,286.72 L593.14,286.15 L594.21,285.58 L595.28,285.00 L596.35,284.43 L597.41,283.86 L598.47,283.28 L599.52,282.71 L600.57,282.14 L601.61,281.56 L602.65,280.99 L603.68,280.42 L604.71,279.84 L605.74,279.27 L606.76,278.70 L607.77,278.12 L608.78,277.55 L609.79,276.97 L610.79,276.40 L611.79,275.83 L612.78,275.25 L613.77,274.68 L614.75,274.11 L615.73,273.53 L616.70,272.96 L617.67,272.39 L618.63,271.81 L619.59,271.24 L620.55,270.67 L621.50,270.09 L622.44,269.52 L623.39,268.95 L624.32,268.37 L625.25,267.80 L626.18,267.23 L627.10,266.65 L628.02,266.08 L628.93,265.50 L629.84,264.93 L630.75,264.36 L631.65,263.78 L632.54,263.21 L633.43,262.64 L634.31,262.06 L635.20,261.49 L636.07,260.92 L636.94,260.34 L637.81,259.77 L638.67,259.20 L639.53,258.62 L640.38,258.05 L641.23,257.48 L642.07,256.90 L642.91,256.33 L643.75,255.76 L644.57,255.18 L645.40,254.61 L646.22,254.03 L647.03,253.46 L647.85,252.89 L648.65,252.31 L649.45,251.74 L650.25,251.17 L651.04,250.59 L651.83,250.02 L652.61,249.45 L653.39,248.87 L654.17,248.30 L654.93,247.73 L655.70,247.15 L656.46,246.58 L657.21,246.01 L657.96,245.43 L658.71,244.86 L659.45,244.29 L660.19,243.71 L660.92,243.14 L661.65,242.57 L662.37,241.99 L663.09,241.42 L663.80,240.84 L664.51,240.27 L665.21,239.70 L665.91,239.12 L666.61,238.55 L667.30,237.98 L667.98,237.40 L668.66,236.83 L669.34,236.26 L670.01,235.68 L670.68,235.11 L671.34,234.54 L672.00,233.96 L672.65,233.39 L673.30,232.82 L673.94,232.24 L674.58,231.67 L675.21,231.10 L675.84,230.52 L676.47,229.95 L677.09,229.37 L677.71,228.80 L678.32,228.23 L678.92,227.65 L679.52,227.08 L680.12,226.51 L680.71,225.93 L681.30,225.36 L681.89,224.79 L682.46,224.21 L683.04,223.64 L683.61,223.07 L684.17,222.49 L684.73,221.92 L685.29,221.35 L685.84,220.77 L686.38,220.20 L686.92,219.63 L687.46,219.05 L687.99,218.48 L688.52,217.90 L689.04,217.33 L689.56,216.76 L690.07,216.18 L690.58,215.61 L691.09,215.04 L691.59,214.46 L692.08,213.89 L692.57,213.32 L693.06,212.74 L693.54,212.17 L694.02,211.60 L694.49,211.02 L694.95,210.45 L695.42,209.88 L695.87,209.30 L696.33,208.73 L696.78,208.16 L697.22,207.58 L697.66,207.01 L698.09,206.43 L698.52,205.86 L698.95,205.29 L699.37,204.71 L699.78,204.14 L700.20,203.57 L700.60,202.99 L701.00,202.42 L701.40,201.85 L701.79,201.27 L702.18,200.70 L702.57,200.13 L702.94,199.55 L703.32,198.98 L703.69,198.41 L704.05,197.83 L704.41,197.26 L704.77,196.69 L705.12,196.11 L705.46,195.54 L705.81,194.97 L706.14,194.39 L706.48,193.82 L706.80,193.24 L707.13,192.67 L707.44,192.10 L707.76,191.52 L708.07,190.95 L708.37,190.38 L708.67,189.80 L708.97,189.23 L709.26,188.66 L709.54,188.08 L709.82,187.51 L710.10,186.94 L710.37,186.36 L710.64,185.79 L710.90,185.22 L711.16,184.64 L711.41,184.07 L711.66,183.50 L711.91,182.92 L712.14,182.35 L712.38,181.77 L712.61,181.20 L712.83,180.63 L713.06,180.05 L713.27,179.48 L713.48,178.91 L713.69,178.33 L713.89,177.76 L714.09,177.19 L714.28,176.61 L714.47,176.04 L714.65,175.47 L714.83,174.89 L715.01,174.32 L715.18,173.75 L715.34,173.17 L715.50,172.60 L715.66,172.03 L715.81,171.45 L715.95,170.88 L716.10,170.30 L716.23,169.73 L716.37,169.16 L716.49,168.58 L716.62,168.01 L716.74,167.44 L716.85,166.86 L716.96,166.29 L717.06,165.72 L717.16,165.14 L717.26,164.57 L717.35,164.00 L717.43,163.42 L717.52,162.85 L717.59,162.28 L717.66,161.70 L717.73,161.13 L717.79,160.56 L717.85,159.98 L717.91,159.41 L717.96,158.83 L718.00,158.26 L718.04,157.69 L718.07,157.11 L718.10,156.54 L718.13,155.97 L718.15,155.39 L718.17,154.82 L718.18,154.25 L718.19,153.67 L718.19,153.10" fill="none" stroke="#000" stroke-width="1.5" stroke-dasharray="13 7.8 2 7.8" stroke-dashoffset="14.5"/>
<path d="M504.46,153.10 L505.58,152.08 L506.71,151.07 L507.83,150.08 L508.95,149.09 L510.08,148.11 L511.20,147.14 L512.32,146.18 L513.45,145.24 L514.57,144.29 L515.69,143.36 L516.82,142.44 L517.94,141.53 L519.06,140.63 L520.18,139.73 L521.31,138.85 L522.43,137.97 L523.55,137.10 L524.67,136.25 L525.79,135.40 L526.91,134.56 L528.03,133.73 L529.15,132.91 L530.27,132.09 L531.39,131.29 L532.51,130.49 L533.63,129.71 L534.74,128.93 L535.86,128.16 L536.97,127.41 L538.09,126.65 L539.20,125.91 L540.31,125.18 L541.42,124.46 L542.53,123.74 L543.64,123.04 L544.75,122.34 L545.86,121.65 L546.97,120.97 L548.07,120.30 L549.18,119.63 L550.28,118.98 L551.38,118.33 L552.48,117.70 L553.58,117.07 L554.68,116.45 L555.77,115.84 L556.87,115.23 L557.96,114.64 L559.05,114.05 L560.14,113.47 L561.23,112.90 L562.32,112.34 L563.41,111.79 L564.49,111.24 L565.57,110.71 L566.65,110.18 L567.73,109.66 L568.81,109.15 L569.89,108.64 L570.96,108.15 L572.03,107.66 L573.10,107.18 L574.17,106.71 L575.24,106.25 L576.30,105.79 L577.36,105.34 L578.42,104.91 L579.48,104.47 L580.54,104.05 L581.59,103.64 L582.64,103.23 L583.69,102.83 L584.74,102.44 L585.78,102.05 L586.83,101.67 L587.87,101.31 L588.91,100.94 L589.94,100.59 L590.97,100.24 L592.00,99.91 L593.03,99.58 L594.06,99.25 L595.08,98.94 L596.10,98.63 L597.12,98.33 L598.14,98.03 L599.15,97.75 L600.16,97.47 L601.17,97.20 L602.17,96.94 L603.17,96.68 L604.17,96.43 L605.17,96.19 L606.16,95.95 L607.15,95.73 L608.14,95.51 L609.12,95.29 L610.10,95.09 L611.08,94.89 L612.06,94.70 L613.03,94.51 L614.00,94.33 L614.97,94.16 L615.93,94.00 L616.89,93.84 L617.85,93.69 L618.80,93.55 L619.75,93.41 L620.70,93.28 L621.64,93.16 L622.58,93.04 L623.52,92.93 L624.45,92.83 L625.38,92.73 L626.31,92.64 L627.23,92.56 L628.15,92.48 L629.07,92.41 L629.98,92.35 L630.89,92.29 L631.80,92.24 L632.70,92.20 L633.60,92.16 L634.50,92.13 L635.39,92.10 L636.28,92.08 L637.16,92.07 L638.04,92.06 L638.92,92.06 L639.79,92.07 L640.66,92.08 L641.52,92.10 L642.38,92.12 L643.24,92.15 L644.10,92.19 L644.94,92.23 L645.79,92.28 L646.63,92.33 L647.47,92.39 L648.30,92.45 L649.13,92.52 L649.96,92.60 L650.78,92.68 L651.60,92.77 L652.41,92.87 L653.22,92.97 L654.02,93.07 L654.82,93.18 L655.62,93.30 L656.41,93.42 L657.20,93.55 L657.98,93.68 L658.76,93.82 L659.54,93.96 L660.31,94.11 L661.08,94.26 L661.84,94.42 L662.60,94.58 L663.35,94.75 L664.10,94.93 L664.84,95.11 L665.58,95.29 L666.32,95.48 L667.05,95.68 L667.77,95.88 L668.50,96.08 L669.21,96.29 L669.93,96.51 L670.63,96.73 L671.34,96.95 L672.03,97.18 L672.73,97.41 L673.42,97.65 L674.10,97.90 L674.78,98.14 L675.46,98.40 L676.13,98.65 L676.79,98.91 L677.45,99.18 L678.11,99.45 L678.76,99.73 L679.41,100.01 L680.05,100.29 L680.69,100.58 L681.32,100.87 L681.94,101.17 L682.57,101.47 L683.18,101.77 L683.80,102.08 L684.40,102.40 L685.00,102.71 L685.60,103.03 L686.19,103.36 L686.78,103.69 L687.36,104.02 L687.94,104.36 L688.51,104.70 L689.08,105.05 L689.64,105.39 L690.20,105.75 L690.75,106.10 L691.29,106.46 L691.83,106.83 L692.37,107.19 L692.90,107.56 L693.43,107.94 L693.95,108.32 L694.46,108.70 L694.97,109.08 L695.48,109.47 L695.98,109.86 L696.47,110.26 L696.96,110.66 L697.44,111.06 L697.92,111.46 L698.39,111.87 L698.86,112.28 L699.32,112.69 L699.78,113.11 L700.23,113.53 L700.68,113.95 L701.12,114.38 L701.55,114.81 L701.98,115.24 L702.41,115.68 L702.83,116.11 L703.24,116.55 L703.65,117.00 L704.05,117.44 L704.45,117.89 L704.84,118.34 L705.23,118.80 L705.61,119.25 L705.98,119.71 L706.35,120.17 L706.71,120.63 L707.07,121.10 L707.43,121.57 L707.77,122.04 L708.12,122.51 L708.45,122.99 L708.78,123.47 L709.11,123.94 L709.43,124.43 L709.74,124.91 L710.05,125.40 L710.35,125.88 L710.65,126.37 L710.94,126.87 L711.22,127.36 L711.50,127.86 L711.78,128.35 L712.05,128.85 L712.31,129.35 L712.57,129.86 L712.82,130.36 L713.07,130.87 L713.31,131.37 L713.54,131.88 L713.77,132.39 L713.99,132.91 L714.21,133.42 L714.42,133.93 L714.63,134.45 L714.83,134.97 L715.02,135.49 L715.21,136.01 L715.39,136.53 L715.57,137.05 L715.74,137.58 L715.91,138.10 L716.07,138.63 L716.22,139.16 L716.37,139.68 L716.51,140.21 L716.65,140.74 L716.78,141.27 L716.90,141.81 L717.02,142.34 L717.14,142.87 L717.24,143.41 L717.35,143.94 L717.44,144.48 L717.53,145.01 L717.62,145.55 L717.70,146.09 L717.77,146.62 L717.83,147.16 L717.90,147.70 L717.95,148.24 L718.00,148.78 L718.04,149.32 L718.08,149.86 L718.11,150.40 L718.14,150.94 L718.16,151.48 L718.18,152.02 L718.18,152.56 L718.19,153.10 L718.18,153.64 L718.18,154.18 L718.16,154.72 L718.14,155.26 L718.11,155.80 L718.08,156.34 L718.04,156.88 L718.00,157.42 L717.95,157.96 L717.90,158.50 L717.83,159.04 L717.77,159.58 L717.70,160.11 L717.62,160.65 L717.53,161.19 L717.44,161.72 L717.35,162.26 L717.24,162.79 L717.14,163.33 L717.02,163.86 L716.90,164.39 L716.78,164.93 L716.65,165.46 L716.51,165.99 L716.37,166.52 L716.22,167.04 L716.07,167.57 L715.91,168.10 L715.74,168.62 L715.57,169.15 L715.39,169.67 L715.21,170.19 L715.02,170.71 L714.83,171.23 L714.63,171.75 L714.42,172.27 L714.21,172.78 L713.99,173.29 L713.77,173.81 L713.54,174.32 L713.31,174.83 L713.07,175.33 L712.82,175.84 L712.57,176.34 L712.31,176.85 L712.05,177.35 L711.78,177.85 L711.50,178.34 L711.22,178.84 L710.94,179.33 L710.65,179.83 L710.35,180.32 L710.05,180.80 L709.74,181.29 L709.43,181.77 L709.11,182.26 L708.78,182.73 L708.45,183.21 L708.12,183.69 L707.77,184.16 L707.43,184.63 L707.07,185.10 L706.71,185.57 L706.35,186.03 L705.98,186.49 L705.61,186.95 L705.23,187.40 L704.84,187.86 L704.45,188.31 L704.05,188.76 L703.65,189.20 L703.24,189.65 L702.83,190.09 L702.41,190.52 L701.98,190.96 L701.55,191.39 L701.12,191.82 L700.68,192.25 L700.23,192.67 L699.78,193.09 L699.32,193.51 L698.86,193.92 L698.39,194.33 L697.92,194.74 L697.44,195.14 L696.96,195.54 L696.47,195.94 L695.98,196.34 L695.48,196.73 L694.97,197.12 L694.46,197.50 L693.95,197.88 L693.43,198.26 L692.90,198.64 L692.37,199.01 L691.83,199.37 L691.29,199.74 L690.75,200.10 L690.20,200.45 L689.64,200.81 L689.08,201.15 L688.51,201.50 L687.94,201.84 L687.36,202.18 L686.78,202.51 L686.19,202.84 L685.60,203.17 L685.00,203.49 L684.40,203.80 L683.80,204.12 L683.18,204.43 L682.57,204.73 L681.94,205.03 L681.32,205.33 L680.69,205.62 L680.05,205.91 L679.41,206.19 L678.76,206.47 L678.11,206.75 L677.45,207.02 L676.79,207.29 L676.13,207.55 L675.46,207.80 L674.78,208.06 L674.10,208.30 L673.42,208.55 L672.73,208.79 L672.03,209.02 L671.34,209.25 L670.63,209.47 L669.93,209.69 L669.21,209.91 L668.50,210.12 L667.77,210.32 L667.05,210.52 L666.32,210.72 L665.58,210.91 L664.84,211.09 L664.10,211.27 L663.35,211.45 L662.60,211.62 L661.84,211.78 L661.08,211.94 L660.31,212.09 L659.54,212.24 L658.76,212.38 L657.98,212.52 L657.20,212.65 L656.41,212.78 L655.62,212.90 L654.82,213.02 L654.02,213.13 L653.22,213.23 L652.41,213.33 L651.60,213.43 L650.78,213.52 L649.96,213.60 L649.13,213.68 L648.30,213.75 L647.47,213.81 L646.63,213.87 L645.79,213.92 L644.94,213.97 L644.10,214.01 L643.24,214.05 L642.38,214.08 L641.52,214.10 L640.66,214.12 L639.79,214.13 L638.92,214.14 L638.04,214.14 L637.16,214.13 L636.28,214.12 L635.39,214.10 L634.50,214.07 L633.60,214.04 L632.70,214.00 L631.80,213.96 L630.89,213.91 L629.98,213.85 L629.07,213.79 L628.15,213.72 L627.23,213.64 L626.31,213.56 L625.38,213.47 L624.45,213.37 L623.52,213.27 L622.58,213.16 L621.64,213.04 L620.70,212.92 L619.75,212.79 L618.80,212.65 L617.85,212.51 L616.89,212.36 L615.93,212.20 L614.97,212.04 L614.00,211.87 L613.03,211.69 L612.06,211.50 L611.08,211.31 L610.10,211.11 L609.12,210.91 L608.14,210.69 L607.15,210.47 L606.16,210.25 L605.17,210.01 L604.17,209.77 L603.17,209.52 L602.17,209.26 L601.17,209.00 L600.16,208.73 L599.15,208.45 L598.14,208.17 L597.12,207.87 L596.10,207.57 L595.08,207.26 L594.06,206.95 L593.03,206.62 L592.00,206.29 L590.97,205.96 L589.94,205.61 L588.91,205.26 L587.87,204.89 L586.83,204.53 L585.78,204.15 L584.74,203.76 L583.69,203.37 L582.64,202.97 L581.59,202.56 L580.54,202.15 L579.48,201.73 L578.42,201.29 L577.36,200.86 L576.30,200.41 L575.24,199.95 L574.17,199.49 L573.10,199.02 L572.03,198.54 L570.96,198.05 L569.89,197.56 L568.81,197.05 L567.73,196.54 L566.65,196.02 L565.57,195.49 L564.49,194.96 L563.41,194.41 L562.32,193.86 L561.23,193.30 L560.14,192.73 L559.05,192.15 L557.96,191.56 L556.87,190.97 L555.77,190.36 L554.68,189.75 L553.58,189.13 L552.48,188.50 L551.38,187.87 L550.28,187.22 L549.18,186.57 L548.07,185.90 L546.97,185.23 L545.86,184.55 L544.75,183.86 L543.64,183.16 L542.53,182.46 L541.42,181.74 L540.31,181.02 L539.20,180.29 L538.09,179.55 L536.97,178.79 L535.86,178.04 L534.74,177.27 L533.63,176.49 L532.51,175.71 L531.39,174.91 L530.27,174.11 L529.15,173.29 L528.03,172.47 L526.91,171.64 L525.79,170.80 L524.67,169.95 L523.55,169.10 L522.43,168.23 L521.31,167.35 L520.18,166.47 L519.06,165.57 L517.94,164.67 L516.82,163.76 L515.69,162.84 L514.57,161.91 L513.45,160.96 L512.32,160.02 L511.20,159.06 L510.08,158.09 L508.95,157.11 L507.83,156.12 L506.71,155.13 L505.58,154.12 L504.46,153.10Z" fill="none" stroke="#000" stroke-width="1.9" stroke-linejoin="bevel"/>
</g>
<rect x="466.1" y="10.3" width="288.10" height="285.60" fill="none" stroke="#1c1c1c" stroke-width="1.3"/>
<path d="M466.10,295.9v-5.6M466.10,10.3v5.6M538.12,295.9v-5.6M538.12,10.3v5.6M610.15,295.9v-5.6M610.15,10.3v5.6M682.18,295.9v-5.6M682.18,10.3v5.6M754.20,295.9v-5.6M754.20,10.3v5.6M484.11,295.9v-2.8M484.11,10.3v2.8M502.11,295.9v-2.8M502.11,10.3v2.8M520.12,295.9v-2.8M520.12,10.3v2.8M556.13,295.9v-2.8M556.13,10.3v2.8M574.14,295.9v-2.8M574.14,10.3v2.8M592.14,295.9v-2.8M592.14,10.3v2.8M628.16,295.9v-2.8M628.16,10.3v2.8M646.16,295.9v-2.8M646.16,10.3v2.8M664.17,295.9v-2.8M664.17,10.3v2.8M700.18,295.9v-2.8M700.18,10.3v2.8M718.19,295.9v-2.8M718.19,10.3v2.8M736.19,295.9v-2.8M736.19,10.3v2.8M466.1,295.90h5.6M754.2,295.90h-5.6M466.1,224.50h5.6M754.2,224.50h-5.6M466.1,153.10h5.6M754.2,153.10h-5.6M466.1,81.70h5.6M754.2,81.70h-5.6M466.1,10.30h5.6M754.2,10.30h-5.6M466.1,278.05h2.8M754.2,278.05h-2.8M466.1,260.20h2.8M754.2,260.20h-2.8M466.1,242.35h2.8M754.2,242.35h-2.8M466.1,206.65h2.8M754.2,206.65h-2.8M466.1,188.80h2.8M754.2,188.80h-2.8M466.1,170.95h2.8M754.2,170.95h-2.8M466.1,135.25h2.8M754.2,135.25h-2.8M466.1,117.40h2.8M754.2,117.40h-2.8M466.1,99.55h2.8M754.2,99.55h-2.8M466.1,63.85h2.8M754.2,63.85h-2.8M466.1,46.00h2.8M754.2,46.00h-2.8M466.1,28.15h2.8M754.2,28.15h-2.8" fill="none" stroke="#1c1c1c" stroke-width="1.0"/>
</g>
<g id="panelC">
<g clip-path="url(#clipC)">
<circle cx="319.36" cy="535.67" r="12.36" fill="#c2c2c2" stroke="none"/>
<path d="M72.15,535.67H368.8M319.36,385.45V685.9" stroke="#333" stroke-width="1.0" fill="none"/>
<circle cx="319.36" cy="535.67" r="12.36" fill="none" stroke="#000" stroke-width="1.6" stroke-dasharray="1.700 3.847" stroke-dashoffset="0.850"/>
<path d="M72.15,420.94 L73.11,421.15 L74.07,421.36 L75.02,421.58 L75.98,421.79 L76.93,422.00 L77.88,422.21 L78.83,422.43 L79.78,422.64 L80.73,422.85 L81.67,423.06 L82.61,423.27 L83.55,423.49 L84.49,423.70 L85.43,423.91 L86.36,424.12 L87.30,424.34 L88.23,424.55 L89.16,424.76 L90.08,424.97 L91.01,425.19 L91.93,425.40 L92.86,425.61 L93.78,425.82 L94.70,426.04 L95.61,426.25 L96.53,426.46 L97.44,426.67 L98.36,426.88 L99.27,427.10 L100.17,427.31 L101.08,427.52 L101.98,427.73 L102.89,427.95 L103.79,428.16 L104.69,428.37 L105.59,428.58 L106.48,428.80 L107.38,429.01 L108.27,429.22 L109.16,429.43 L110.05,429.64 L110.93,429.86 L111.82,430.07 L112.70,430.28 L113.59,430.49 L114.47,430.71 L115.34,430.92 L116.22,431.13 L117.09,431.34 L117.97,431.56 L118.84,431.77 L119.71,431.98 L120.57,432.19 L121.44,432.41 L122.30,432.62 L123.17,432.83 L124.03,433.04 L124.88,433.25 L125.74,433.47 L126.60,433.68 L127.45,433.89 L128.30,434.10 L129.15,434.32 L130.00,434.53 L130.84,434.74 L131.69,434.95 L132.53,435.17 L133.37,435.38 L134.21,435.59 L135.05,435.80 L135.88,436.02 L136.72,436.23 L137.55,436.44 L138.38,436.65 L139.21,436.86 L140.03,437.08 L140.86,437.29 L141.68,437.50 L142.50,437.71 L143.32,437.93 L144.14,438.14 L144.96,438.35 L145.77,438.56 L146.58,438.78 L147.39,438.99 L148.20,439.20 L149.01,439.41 L149.81,439.63 L150.62,439.84 L151.42,440.05 L152.22,440.26 L153.02,440.47 L153.81,440.69 L154.61,440.90 L155.40,441.11 L156.19,441.32 L156.98,441.54 L157.77,441.75 L158.55,441.96 L159.34,442.17 L160.12,442.39 L160.90,442.60 L161.68,442.81 L162.46,443.02 L163.23,443.24 L164.00,443.45 L164.78,443.66 L165.55,443.87 L166.31,444.08 L167.08,444.30 L167.84,444.51 L168.61,444.72 L169.37,444.93 L170.13,445.15 L170.88,445.36 L171.64,445.57 L172.39,445.78 L173.14,446.00 L173.89,446.21 L174.64,446.42 L175.39,446.63 L176.13,446.85 L176.88,447.06 L177.62,447.27 L178.36,447.48 L179.09,447.69 L179.83,447.91 L180.56,448.12 L181.30,448.33 L182.03,448.54 L182.76,448.76 L183.48,448.97 L184.21,449.18 L184.93,449.39 L185.65,449.61 L186.37,449.82 L187.09,450.03 L187.81,450.24 L188.52,450.46 L189.23,450.67 L189.95,450.88 L190.65,451.09 L191.36,451.30 L192.07,451.52 L192.77,451.73 L193.47,451.94 L194.17,452.15 L194.87,452.37 L195.57,452.58 L196.26,452.79 L196.96,453.00 L197.65,453.22 L198.34,453.43 L199.03,453.64 L199.71,453.85 L200.40,454.06 L201.08,454.28 L201.76,454.49 L202.44,454.70 L203.12,454.91 L203.79,455.13 L204.46,455.34 L205.14,455.55 L205.81,455.76 L206.47,455.98 L207.14,456.19 L207.81,456.40 L208.47,456.61 L209.13,456.83 L209.79,457.04 L210.45,457.25 L211.10,457.46 L211.76,457.67 L212.41,457.89 L213.06,458.10 L213.71,458.31 L214.36,458.52 L215.00,458.74 L215.64,458.95 L216.29,459.16 L216.93,459.37 L217.56,459.59 L218.20,459.80 L218.83,460.01 L219.47,460.22 L220.10,460.44 L220.73,460.65 L221.35,460.86 L221.98,461.07 L222.60,461.28 L223.23,461.50 L223.85,461.71 L224.46,461.92 L225.08,462.13 L225.70,462.35 L226.31,462.56 L226.92,462.77 L227.53,462.98 L228.14,463.20" fill="none" stroke="#000" stroke-width="1.0" stroke-dasharray="13.4 7.8 2 7.8" stroke-dashoffset="0.4"/>
<path d="M228.14,463.20 L228.83,463.44 L229.52,463.68 L230.21,463.92 L230.89,464.17 L231.57,464.41 L232.25,464.65 L232.93,464.89 L233.61,465.14 L234.28,465.38 L234.95,465.62 L235.62,465.86 L236.29,466.10 L236.95,466.35 L237.61,466.59 L238.27,466.83 L238.93,467.07 L239.58,467.32 L240.23,467.56 L240.88,467.80 L241.53,468.04 L242.18,468.29 L242.82,468.53 L243.46,468.77 L244.10,469.01 L244.74,469.26 L245.37,469.50 L246.00,469.74 L246.63,469.98 L247.26,470.23 L247.88,470.47 L248.50,470.71 L249.12,470.95 L249.74,471.20 L250.36,471.44 L250.97,471.68 L251.58,471.92 L252.19,472.16 L252.79,472.41 L253.40,472.65 L254.00,472.89 L254.60,473.13 L255.19,473.38 L255.79,473.62 L256.38,473.86 L256.97,474.10 L257.56,474.35 L258.14,474.59 L258.73,474.83 L259.31,475.07 L259.88,475.32 L260.46,475.56 L261.03,475.80 L261.60,476.04 L262.17,476.29 L262.74,476.53 L263.30,476.77 L263.87,477.01 L264.43,477.26 L264.98,477.50 L265.54,477.74 L266.09,477.98 L266.64,478.22 L267.19,478.47 L267.73,478.71 L268.28,478.95 L268.82,479.19 L269.36,479.44 L269.89,479.68 L270.43,479.92 L270.96,480.16 L271.49,480.41 L272.02,480.65 L272.54,480.89 L273.06,481.13 L273.58,481.38 L274.10,481.62 L274.62,481.86 L275.13,482.10 L275.64,482.35 L276.15,482.59 L276.66,482.83 L277.16,483.07 L277.66,483.32 L278.16,483.56 L278.66,483.80 L279.15,484.04 L279.65,484.29 L280.14,484.53 L280.62,484.77 L281.11,485.01 L281.59,485.25 L282.07,485.50 L282.55,485.74 L283.03,485.98 L283.50,486.22 L283.97,486.47 L284.44,486.71 L284.91,486.95 L285.37,487.19 L285.84,487.44 L286.30,487.68 L286.75,487.92 L287.21,488.16 L287.66,488.41 L288.11,488.65 L288.56,488.89 L289.01,489.13 L289.45,489.38 L289.89,489.62 L290.33,489.86 L290.77,490.10 L291.20,490.35 L291.64,490.59 L292.07,490.83 L292.49,491.07 L292.92,491.31 L293.34,491.56 L293.76,491.80 L294.18,492.04 L294.60,492.28 L295.01,492.53 L295.42,492.77 L295.83,493.01 L296.24,493.25 L296.64,493.50 L297.04,493.74 L297.44,493.98 L297.84,494.22 L298.24,494.47 L298.63,494.71 L299.02,494.95 L299.41,495.19 L299.79,495.44 L300.18,495.68 L300.56,495.92 L300.94,496.16 L301.31,496.41 L301.69,496.65 L302.06,496.89 L302.43,497.13 L302.80,497.37 L303.16,497.62 L303.52,497.86 L303.88,498.10 L304.24,498.34 L304.60,498.59 L304.95,498.83 L305.30,499.07 L305.65,499.31 L306.00,499.56 L306.34,499.80 L306.68,500.04 L307.02,500.28 L307.36,500.53 L307.69,500.77 L308.03,501.01 L308.36,501.25 L308.68,501.50 L309.01,501.74 L309.33,501.98 L309.65,502.22 L309.97,502.47 L310.29,502.71 L310.60,502.95 L310.91,503.19 L311.22,503.44 L311.53,503.68 L311.84,503.92 L312.14,504.16 L312.44,504.40 L312.74,504.65 L313.03,504.89 L313.32,505.13 L313.62,505.37 L313.90,505.62 L314.19,505.86 L314.47,506.10 L314.76,506.34 L315.03,506.59 L315.31,506.83 L315.59,507.07 L315.86,507.31 L316.13,507.56 L316.40,507.80 L316.66,508.04 L316.92,508.28 L317.19,508.53 L317.44,508.77 L317.70,509.01 L317.95,509.25 L318.20,509.50 L318.45,509.74 L318.70,509.98 L318.95,510.22 L319.19,510.46 L319.43,510.71 L319.66,510.95 L319.90,511.19 L320.13,511.43 L320.36,511.68 L320.59,511.92 L320.82,512.16 L321.04,512.40 L321.26,512.65 L321.48,512.89 L321.70,513.13 L321.91,513.37 L322.12,513.62 L322.33,513.86 L322.54,514.10 L322.75,514.34 L322.95,514.59 L323.15,514.83 L323.35,515.07 L323.54,515.31 L323.74,515.56 L323.93,515.80 L324.12,516.04 L324.30,516.28 L324.49,516.52 L324.67,516.77 L324.85,517.01 L325.03,517.25 L325.20,517.49 L325.37,517.74 L325.54,517.98 L325.71,518.22 L325.88,518.46 L326.04,518.71 L326.20,518.95 L326.36,519.19 L326.52,519.43 L326.67,519.68 L326.82,519.92 L326.97,520.16 L327.12,520.40 L327.27,520.65 L327.41,520.89 L327.55,521.13 L327.69,521.37 L327.82,521.62 L327.95,521.86 L328.09,522.10 L328.21,522.34 L328.34,522.59 L328.46,522.83 L328.59,523.07 L328.71,523.31 L328.82,523.55 L328.94,523.80 L329.05,524.04 L329.16,524.28 L329.27,524.52 L329.37,524.77 L329.48,525.01 L329.58,525.25 L329.67,525.49 L329.77,525.74 L329.86,525.98 L329.96,526.22 L330.05,526.46 L330.13,526.71 L330.22,526.95 L330.30,527.19 L330.38,527.43 L330.46,527.68 L330.53,527.92 L330.61,528.16 L330.68,528.40 L330.74,528.65 L330.81,528.89 L330.87,529.13 L330.94,529.37 L330.99,529.61 L331.05,529.86 L331.11,530.10 L331.16,530.34 L331.21,530.58 L331.26,530.83 L331.30,531.07 L331.34,531.31 L331.38,531.55 L331.42,531.80 L331.46,532.04 L331.49,532.28 L331.52,532.52 L331.55,532.77 L331.58,533.01 L331.60,533.25 L331.62,533.49 L331.64,533.74 L331.66,533.98 L331.68,534.22 L331.69,534.46 L331.70,534.71 L331.71,534.95 L331.71,535.19 L331.72,535.43 L331.72,535.67" fill="none" stroke="#000" stroke-width="1.0" stroke-dasharray="14 3.8 1.6 3.8" stroke-dashoffset="0"/>
<path d="M72.15,650.41 L73.11,650.20 L74.07,649.99 L75.02,649.77 L75.98,649.56 L76.93,649.35 L77.88,649.14 L78.83,648.92 L79.78,648.71 L80.73,648.50 L81.67,648.29 L82.61,648.08 L83.55,647.86 L84.49,647.65 L85.43,647.44 L86.36,647.23 L87.30,647.01 L88.23,646.80 L89.16,646.59 L90.08,646.38 L91.01,646.16 L91.93,645.95 L92.86,645.74 L93.78,645.53 L94.70,645.31 L95.61,645.10 L96.53,644.89 L97.44,644.68 L98.36,644.47 L99.27,644.25 L100.17,644.04 L101.08,643.83 L101.98,643.62 L102.89,643.40 L103.79,643.19 L104.69,642.98 L105.59,642.77 L106.48,642.55 L107.38,642.34 L108.27,642.13 L109.16,641.92 L110.05,641.71 L110.93,641.49 L111.82,641.28 L112.70,641.07 L113.59,640.86 L114.47,640.64 L115.34,640.43 L116.22,640.22 L117.09,640.01 L117.97,639.79 L118.84,639.58 L119.71,639.37 L120.57,639.16 L121.44,638.94 L122.30,638.73 L123.17,638.52 L124.03,638.31 L124.88,638.10 L125.74,637.88 L126.60,637.67 L127.45,637.46 L128.30,637.25 L129.15,637.03 L130.00,636.82 L130.84,636.61 L131.69,636.40 L132.53,636.18 L133.37,635.97 L134.21,635.76 L135.05,635.55 L135.88,635.33 L136.72,635.12 L137.55,634.91 L138.38,634.70 L139.21,634.49 L140.03,634.27 L140.86,634.06 L141.68,633.85 L142.50,633.64 L143.32,633.42 L144.14,633.21 L144.96,633.00 L145.77,632.79 L146.58,632.57 L147.39,632.36 L148.20,632.15 L149.01,631.94 L149.81,631.72 L150.62,631.51 L151.42,631.30 L152.22,631.09 L153.02,630.88 L153.81,630.66 L154.61,630.45 L155.40,630.24 L156.19,630.03 L156.98,629.81 L157.77,629.60 L158.55,629.39 L159.34,629.18 L160.12,628.96 L160.90,628.75 L161.68,628.54 L162.46,628.33 L163.23,628.11 L164.00,627.90 L164.78,627.69 L165.55,627.48 L166.31,627.27 L167.08,627.05 L167.84,626.84 L168.61,626.63 L169.37,626.42 L170.13,626.20 L170.88,625.99 L171.64,625.78 L172.39,625.57 L173.14,625.35 L173.89,625.14 L174.64,624.93 L175.39,624.72 L176.13,624.50 L176.88,624.29 L177.62,624.08 L178.36,623.87 L179.09,623.66 L179.83,623.44 L180.56,623.23 L181.30,623.02 L182.03,622.81 L182.76,622.59 L183.48,622.38 L184.21,622.17 L184.93,621.96 L185.65,621.74 L186.37,621.53 L187.09,621.32 L187.81,621.11 L188.52,620.89 L189.23,620.68 L189.95,620.47 L190.65,620.26 L191.36,620.05 L192.07,619.83 L192.77,619.62 L193.47,619.41 L194.17,619.20 L194.87,618.98 L195.57,618.77 L196.26,618.56 L196.96,618.35 L197.65,618.13 L198.34,617.92 L199.03,617.71 L199.71,617.50 L200.40,617.29 L201.08,617.07 L201.76,616.86 L202.44,616.65 L203.12,616.44 L203.79,616.22 L204.46,616.01 L205.14,615.80 L205.81,615.59 L206.47,615.37 L207.14,615.16 L207.81,614.95 L208.47,614.74 L209.13,614.52 L209.79,614.31 L210.45,614.10 L211.10,613.89 L211.76,613.68 L212.41,613.46 L213.06,613.25 L213.71,613.04 L214.36,612.83 L215.00,612.61 L215.64,612.40 L216.29,612.19 L216.93,611.98 L217.56,611.76 L218.20,611.55 L218.83,611.34 L219.47,611.13 L220.10,610.91 L220.73,610.70 L221.35,610.49 L221.98,610.28 L222.60,610.07 L223.23,609.85 L223.85,609.64 L224.46,609.43 L225.08,609.22 L225.70,609.00 L226.31,608.79 L226.92,608.58 L227.53,608.37 L228.14,608.15" fill="none" stroke="#000" stroke-width="1.0" stroke-dasharray="13.4 7.8 2 7.8" stroke-dashoffset="0.4"/>
<path d="M228.14,608.15 L228.83,607.91 L229.52,607.67 L230.21,607.43 L230.89,607.18 L231.57,606.94 L232.25,606.70 L232.93,606.46 L233.61,606.21 L234.28,605.97 L234.95,605.73 L235.62,605.49 L236.29,605.25 L236.95,605.00 L237.61,604.76 L238.27,604.52 L238.93,604.28 L239.58,604.03 L240.23,603.79 L240.88,603.55 L241.53,603.31 L242.18,603.06 L242.82,602.82 L243.46,602.58 L244.10,602.34 L244.74,602.09 L245.37,601.85 L246.00,601.61 L246.63,601.37 L247.26,601.12 L247.88,600.88 L248.50,600.64 L249.12,600.40 L249.74,600.15 L250.36,599.91 L250.97,599.67 L251.58,599.43 L252.19,599.19 L252.79,598.94 L253.40,598.70 L254.00,598.46 L254.60,598.22 L255.19,597.97 L255.79,597.73 L256.38,597.49 L256.97,597.25 L257.56,597.00 L258.14,596.76 L258.73,596.52 L259.31,596.28 L259.88,596.03 L260.46,595.79 L261.03,595.55 L261.60,595.31 L262.17,595.06 L262.74,594.82 L263.30,594.58 L263.87,594.34 L264.43,594.09 L264.98,593.85 L265.54,593.61 L266.09,593.37 L266.64,593.13 L267.19,592.88 L267.73,592.64 L268.28,592.40 L268.82,592.16 L269.36,591.91 L269.89,591.67 L270.43,591.43 L270.96,591.19 L271.49,590.94 L272.02,590.70 L272.54,590.46 L273.06,590.22 L273.58,589.97 L274.10,589.73 L274.62,589.49 L275.13,589.25 L275.64,589.00 L276.15,588.76 L276.66,588.52 L277.16,588.28 L277.66,588.03 L278.16,587.79 L278.66,587.55 L279.15,587.31 L279.65,587.06 L280.14,586.82 L280.62,586.58 L281.11,586.34 L281.59,586.10 L282.07,585.85 L282.55,585.61 L283.03,585.37 L283.50,585.13 L283.97,584.88 L284.44,584.64 L284.91,584.40 L285.37,584.16 L285.84,583.91 L286.30,583.67 L286.75,583.43 L287.21,583.19 L287.66,582.94 L288.11,582.70 L288.56,582.46 L289.01,582.22 L289.45,581.97 L289.89,581.73 L290.33,581.49 L290.77,581.25 L291.20,581.00 L291.64,580.76 L292.07,580.52 L292.49,580.28 L292.92,580.04 L293.34,579.79 L293.76,579.55 L294.18,579.31 L294.60,579.07 L295.01,578.82 L295.42,578.58 L295.83,578.34 L296.24,578.10 L296.64,577.85 L297.04,577.61 L297.44,577.37 L297.84,577.13 L298.24,576.88 L298.63,576.64 L299.02,576.40 L299.41,576.16 L299.79,575.91 L300.18,575.67 L300.56,575.43 L300.94,575.19 L301.31,574.94 L301.69,574.70 L302.06,574.46 L302.43,574.22 L302.80,573.98 L303.16,573.73 L303.52,573.49 L303.88,573.25 L304.24,573.01 L304.60,572.76 L304.95,572.52 L305.30,572.28 L305.65,572.04 L306.00,571.79 L306.34,571.55 L306.68,571.31 L307.02,571.07 L307.36,570.82 L307.69,570.58 L308.03,570.34 L308.36,570.10 L308.68,569.85 L309.01,569.61 L309.33,569.37 L309.65,569.13 L309.97,568.88 L310.29,568.64 L310.60,568.40 L310.91,568.16 L311.22,567.91 L311.53,567.67 L311.84,567.43 L312.14,567.19 L312.44,566.95 L312.74,566.70 L313.03,566.46 L313.32,566.22 L313.62,565.98 L313.90,565.73 L314.19,565.49 L314.47,565.25 L314.76,565.01 L315.03,564.76 L315.31,564.52 L315.59,564.28 L315.86,564.04 L316.13,563.79 L316.40,563.55 L316.66,563.31 L316.92,563.07 L317.19,562.82 L317.44,562.58 L317.70,562.34 L317.95,562.10 L318.20,561.85 L318.45,561.61 L318.70,561.37 L318.95,561.13 L319.19,560.89 L319.43,560.64 L319.66,560.40 L319.90,560.16 L320.13,559.92 L320.36,559.67 L320.59,559.43 L320.82,559.19 L321.04,558.95 L321.26,558.70 L321.48,558.46 L321.70,558.22 L321.91,557.98 L322.12,557.73 L322.33,557.49 L322.54,557.25 L322.75,557.01 L322.95,556.76 L323.15,556.52 L323.35,556.28 L323.54,556.04 L323.74,555.79 L323.93,555.55 L324.12,555.31 L324.30,555.07 L324.49,554.83 L324.67,554.58 L324.85,554.34 L325.03,554.10 L325.20,553.86 L325.37,553.61 L325.54,553.37 L325.71,553.13 L325.88,552.89 L326.04,552.64 L326.20,552.40 L326.36,552.16 L326.52,551.92 L326.67,551.67 L326.82,551.43 L326.97,551.19 L327.12,550.95 L327.27,550.70 L327.41,550.46 L327.55,550.22 L327.69,549.98 L327.82,549.73 L327.95,549.49 L328.09,549.25 L328.21,549.01 L328.34,548.76 L328.46,548.52 L328.59,548.28 L328.71,548.04 L328.82,547.80 L328.94,547.55 L329.05,547.31 L329.16,547.07 L329.27,546.83 L329.37,546.58 L329.48,546.34 L329.58,546.10 L329.67,545.86 L329.77,545.61 L329.86,545.37 L329.96,545.13 L330.05,544.89 L330.13,544.64 L330.22,544.40 L330.30,544.16 L330.38,543.92 L330.46,543.67 L330.53,543.43 L330.61,543.19 L330.68,542.95 L330.74,542.70 L330.81,542.46 L330.87,542.22 L330.94,541.98 L330.99,541.74 L331.05,541.49 L331.11,541.25 L331.16,541.01 L331.21,540.77 L331.26,540.52 L331.30,540.28 L331.34,540.04 L331.38,539.80 L331.42,539.55 L331.46,539.31 L331.49,539.07 L331.52,538.83 L331.55,538.58 L331.58,538.34 L331.60,538.10 L331.62,537.86 L331.64,537.61 L331.66,537.37 L331.68,537.13 L331.69,536.89 L331.70,536.64 L331.71,536.40 L331.71,536.16 L331.72,535.92 L331.72,535.67" fill="none" stroke="#000" stroke-width="1.0" stroke-dasharray="14 3.8 1.6 3.8" stroke-dashoffset="0"/>
<path d="M258.36,535.67 L258.75,535.32 L259.13,534.96 L259.52,534.61 L259.90,534.27 L260.29,533.93 L260.68,533.59 L261.06,533.25 L261.45,532.92 L261.83,532.59 L262.22,532.26 L262.60,531.94 L262.99,531.62 L263.37,531.30 L263.76,530.99 L264.14,530.68 L264.53,530.37 L264.91,530.07 L265.30,529.76 L265.68,529.47 L266.07,529.17 L266.45,528.88 L266.84,528.59 L267.22,528.31 L267.61,528.03 L267.99,527.75 L268.37,527.47 L268.76,527.20 L269.14,526.93 L269.52,526.66 L269.90,526.40 L270.29,526.14 L270.67,525.88 L271.05,525.63 L271.43,525.38 L271.81,525.13 L272.19,524.89 L272.57,524.65 L272.95,524.41 L273.33,524.17 L273.71,523.94 L274.09,523.71 L274.47,523.48 L274.84,523.26 L275.22,523.04 L275.60,522.82 L275.97,522.61 L276.35,522.40 L276.73,522.19 L277.10,521.98 L277.47,521.78 L277.85,521.58 L278.22,521.38 L278.59,521.19 L278.97,521.00 L279.34,520.81 L279.71,520.62 L280.08,520.44 L280.45,520.26 L280.82,520.09 L281.19,519.91 L281.55,519.74 L281.92,519.57 L282.29,519.41 L282.65,519.25 L283.02,519.09 L283.38,518.93 L283.75,518.77 L284.11,518.62 L284.47,518.48 L284.84,518.33 L285.20,518.19 L285.56,518.05 L285.92,517.91 L286.27,517.77 L286.63,517.64 L286.99,517.51 L287.35,517.39 L287.70,517.26 L288.06,517.14 L288.41,517.02 L288.76,516.91 L289.11,516.79 L289.47,516.68 L289.82,516.57 L290.17,516.47 L290.51,516.37 L290.86,516.27 L291.21,516.17 L291.55,516.07 L291.90,515.98 L292.24,515.89 L292.59,515.80 L292.93,515.72 L293.27,515.64 L293.61,515.56 L293.95,515.48 L294.28,515.40 L294.62,515.33 L294.96,515.26 L295.29,515.19 L295.63,515.13 L295.96,515.07 L296.29,515.01 L296.62,514.95 L296.95,514.89 L297.28,514.84 L297.61,514.79 L297.93,514.74 L298.26,514.70 L298.58,514.66 L298.90,514.61 L299.23,514.58 L299.55,514.54 L299.87,514.51 L300.18,514.47 L300.50,514.45 L300.82,514.42 L301.13,514.39 L301.45,514.37 L301.76,514.35 L302.07,514.33 L302.38,514.32 L302.69,514.31 L302.99,514.29 L303.30,514.29 L303.60,514.28 L303.91,514.27 L304.21,514.27 L304.51,514.27 L304.81,514.27 L305.11,514.28 L305.41,514.28 L305.70,514.29 L306.00,514.30 L306.29,514.31 L306.58,514.33 L306.87,514.35 L307.16,514.36 L307.45,514.39 L307.73,514.41 L308.02,514.43 L308.30,514.46 L308.58,514.49 L308.86,514.52 L309.14,514.55 L309.42,514.59 L309.70,514.62 L309.97,514.66 L310.24,514.70 L310.52,514.75 L310.79,514.79 L311.06,514.84 L311.32,514.89 L311.59,514.94 L311.85,514.99 L312.12,515.04 L312.38,515.10 L312.64,515.16 L312.90,515.22 L313.15,515.28 L313.41,515.34 L313.66,515.40 L313.92,515.47 L314.17,515.54 L314.42,515.61 L314.66,515.68 L314.91,515.75 L315.15,515.83 L315.40,515.91 L315.64,515.99 L315.88,516.07 L316.12,516.15 L316.35,516.23 L316.59,516.32 L316.82,516.40 L317.05,516.49 L317.28,516.58 L317.51,516.67 L317.74,516.77 L317.96,516.86 L318.19,516.96 L318.41,517.06 L318.63,517.16 L318.85,517.26 L319.06,517.36 L319.28,517.46 L319.49,517.57 L319.70,517.68 L319.91,517.78 L320.12,517.89 L320.33,518.01 L320.53,518.12 L320.74,518.23 L320.94,518.35 L321.14,518.47 L321.34,518.58 L321.53,518.70 L321.73,518.82 L321.92,518.95 L322.11,519.07 L322.30,519.19 L322.49,519.32 L322.67,519.45 L322.86,519.58 L323.04,519.71 L323.22,519.84 L323.40,519.97 L323.58,520.10 L323.75,520.24 L323.92,520.38 L324.10,520.51 L324.26,520.65 L324.43,520.79 L324.60,520.93 L324.76,521.07 L324.92,521.22 L325.09,521.36 L325.24,521.51 L325.40,521.65 L325.56,521.80 L325.71,521.95 L325.86,522.10 L326.01,522.25 L326.16,522.40 L326.30,522.55 L326.45,522.71 L326.59,522.86 L326.73,523.01 L326.87,523.17 L327.00,523.33 L327.14,523.49 L327.27,523.65 L327.40,523.81 L327.53,523.97 L327.66,524.13 L327.78,524.29 L327.90,524.45 L328.03,524.62 L328.14,524.78 L328.26,524.95 L328.38,525.12 L328.49,525.28 L328.60,525.45 L328.71,525.62 L328.82,525.79 L328.93,525.96 L329.03,526.13 L329.13,526.30 L329.23,526.48 L329.33,526.65 L329.43,526.82 L329.52,527.00 L329.61,527.17 L329.70,527.35 L329.79,527.52 L329.88,527.70 L329.96,527.88 L330.04,528.06 L330.12,528.23 L330.20,528.41 L330.28,528.59 L330.35,528.77 L330.43,528.95 L330.50,529.14 L330.57,529.32 L330.63,529.50 L330.70,529.68 L330.76,529.86 L330.82,530.05 L330.88,530.23 L330.94,530.42 L330.99,530.60 L331.04,530.79 L331.09,530.97 L331.14,531.16 L331.19,531.34 L331.24,531.53 L331.28,531.71 L331.32,531.90 L331.36,532.09 L331.39,532.28 L331.43,532.46 L331.46,532.65 L331.49,532.84 L331.52,533.03 L331.55,533.22 L331.57,533.40 L331.60,533.59 L331.62,533.78 L331.64,533.97 L331.65,534.16 L331.67,534.35 L331.68,534.54 L331.69,534.73 L331.70,534.92 L331.71,535.11 L331.71,535.30 L331.72,535.49 L331.72,535.67 L331.72,535.86 L331.71,536.05 L331.71,536.24 L331.70,536.43 L331.69,536.62 L331.68,536.81 L331.67,537.00 L331.65,537.19 L331.64,537.38 L331.62,537.57 L331.60,537.76 L331.57,537.95 L331.55,538.13 L331.52,538.32 L331.49,538.51 L331.46,538.70 L331.43,538.89 L331.39,539.07 L331.36,539.26 L331.32,539.45 L331.28,539.64 L331.24,539.82 L331.19,540.01 L331.14,540.19 L331.09,540.38 L331.04,540.56 L330.99,540.75 L330.94,540.93 L330.88,541.12 L330.82,541.30 L330.76,541.49 L330.70,541.67 L330.63,541.85 L330.57,542.03 L330.50,542.21 L330.43,542.40 L330.35,542.58 L330.28,542.76 L330.20,542.94 L330.12,543.12 L330.04,543.29 L329.96,543.47 L329.88,543.65 L329.79,543.83 L329.70,544.00 L329.61,544.18 L329.52,544.35 L329.43,544.53 L329.33,544.70 L329.23,544.87 L329.13,545.05 L329.03,545.22 L328.93,545.39 L328.82,545.56 L328.71,545.73 L328.60,545.90 L328.49,546.07 L328.38,546.23 L328.26,546.40 L328.14,546.57 L328.03,546.73 L327.90,546.90 L327.78,547.06 L327.66,547.22 L327.53,547.38 L327.40,547.54 L327.27,547.70 L327.14,547.86 L327.00,548.02 L326.87,548.18 L326.73,548.34 L326.59,548.49 L326.45,548.64 L326.30,548.80 L326.16,548.95 L326.01,549.10 L325.86,549.25 L325.71,549.40 L325.56,549.55 L325.40,549.70 L325.24,549.84 L325.09,549.99 L324.92,550.13 L324.76,550.28 L324.60,550.42 L324.43,550.56 L324.26,550.70 L324.10,550.84 L323.92,550.97 L323.75,551.11 L323.58,551.25 L323.40,551.38 L323.22,551.51 L323.04,551.64 L322.86,551.77 L322.67,551.90 L322.49,552.03 L322.30,552.16 L322.11,552.28 L321.92,552.40 L321.73,552.53 L321.53,552.65 L321.34,552.77 L321.14,552.88 L320.94,553.00 L320.74,553.12 L320.53,553.23 L320.33,553.34 L320.12,553.46 L319.91,553.57 L319.70,553.67 L319.49,553.78 L319.28,553.89 L319.06,553.99 L318.85,554.09 L318.63,554.19 L318.41,554.29 L318.19,554.39 L317.96,554.49 L317.74,554.58 L317.51,554.68 L317.28,554.77 L317.05,554.86 L316.82,554.95 L316.59,555.03 L316.35,555.12 L316.12,555.20 L315.88,555.28 L315.64,555.36 L315.40,555.44 L315.15,555.52 L314.91,555.60 L314.66,555.67 L314.42,555.74 L314.17,555.81 L313.92,555.88 L313.66,555.95 L313.41,556.01 L313.15,556.07 L312.90,556.13 L312.64,556.19 L312.38,556.25 L312.12,556.31 L311.85,556.36 L311.59,556.41 L311.32,556.46 L311.06,556.51 L310.79,556.56 L310.52,556.60 L310.24,556.65 L309.97,556.69 L309.70,556.73 L309.42,556.76 L309.14,556.80 L308.86,556.83 L308.58,556.86 L308.30,556.89 L308.02,556.92 L307.73,556.94 L307.45,556.96 L307.16,556.99 L306.87,557.00 L306.58,557.02 L306.29,557.04 L306.00,557.05 L305.70,557.06 L305.41,557.07 L305.11,557.07 L304.81,557.08 L304.51,557.08 L304.21,557.08 L303.91,557.08 L303.60,557.07 L303.30,557.06 L302.99,557.06 L302.69,557.04 L302.38,557.03 L302.07,557.02 L301.76,557.00 L301.45,556.98 L301.13,556.96 L300.82,556.93 L300.50,556.90 L300.18,556.88 L299.87,556.84 L299.55,556.81 L299.23,556.77 L298.90,556.74 L298.58,556.69 L298.26,556.65 L297.93,556.61 L297.61,556.56 L297.28,556.51 L296.95,556.46 L296.62,556.40 L296.29,556.34 L295.96,556.28 L295.63,556.22 L295.29,556.16 L294.96,556.09 L294.62,556.02 L294.28,555.95 L293.95,555.87 L293.61,555.79 L293.27,555.71 L292.93,555.63 L292.59,555.55 L292.24,555.46 L291.90,555.37 L291.55,555.28 L291.21,555.18 L290.86,555.08 L290.51,554.98 L290.17,554.88 L289.82,554.78 L289.47,554.67 L289.11,554.56 L288.76,554.44 L288.41,554.33 L288.06,554.21 L287.70,554.09 L287.35,553.96 L286.99,553.84 L286.63,553.71 L286.27,553.58 L285.92,553.44 L285.56,553.30 L285.20,553.16 L284.84,553.02 L284.47,552.87 L284.11,552.73 L283.75,552.58 L283.38,552.42 L283.02,552.26 L282.65,552.10 L282.29,551.94 L281.92,551.78 L281.55,551.61 L281.19,551.44 L280.82,551.26 L280.45,551.09 L280.08,550.91 L279.71,550.73 L279.34,550.54 L278.97,550.35 L278.59,550.16 L278.22,549.97 L277.85,549.77 L277.47,549.57 L277.10,549.37 L276.73,549.16 L276.35,548.95 L275.97,548.74 L275.60,548.53 L275.22,548.31 L274.84,548.09 L274.47,547.87 L274.09,547.64 L273.71,547.41 L273.33,547.18 L272.95,546.94 L272.57,546.70 L272.19,546.46 L271.81,546.22 L271.43,545.97 L271.05,545.72 L270.67,545.47 L270.29,545.21 L269.90,544.95 L269.52,544.69 L269.14,544.42 L268.76,544.15 L268.37,543.88 L267.99,543.60 L267.61,543.32 L267.22,543.04 L266.84,542.76 L266.45,542.47 L266.07,542.18 L265.68,541.88 L265.30,541.59 L264.91,541.28 L264.53,540.98 L264.14,540.67 L263.76,540.36 L263.37,540.05 L262.99,539.73 L262.60,539.41 L262.22,539.09 L261.83,538.76 L261.45,538.43 L261.06,538.10 L260.68,537.76 L260.29,537.42 L259.90,537.08 L259.52,536.74 L259.13,536.39 L258.75,536.03 L258.36,535.67Z" fill="none" stroke="#000" stroke-width="1.3"/>
<path d="M87.58,535.67 L89.12,534.96 L90.65,534.25 L92.17,533.54 L93.69,532.85 L95.21,532.16 L96.73,531.48 L98.24,530.80 L99.74,530.13 L101.25,529.47 L102.75,528.82 L104.24,528.17 L105.73,527.53 L107.22,526.90 L108.70,526.27 L110.18,525.65 L111.65,525.04 L113.12,524.43 L114.59,523.83 L116.05,523.24 L117.51,522.65 L118.97,522.07 L120.42,521.50 L121.86,520.94 L123.30,520.38 L124.74,519.82 L126.18,519.28 L127.61,518.74 L129.03,518.20 L130.45,517.68 L131.87,517.16 L133.28,516.64 L134.69,516.14 L136.09,515.64 L137.49,515.14 L138.89,514.65 L140.28,514.17 L141.67,513.70 L143.05,513.23 L144.43,512.76 L145.80,512.31 L147.17,511.86 L148.54,511.41 L149.90,510.97 L151.26,510.54 L152.61,510.12 L153.96,509.70 L155.30,509.28 L156.64,508.88 L157.98,508.47 L159.31,508.08 L160.64,507.69 L161.96,507.31 L163.27,506.93 L164.59,506.56 L165.90,506.19 L167.20,505.83 L168.50,505.48 L169.79,505.13 L171.08,504.79 L172.37,504.45 L173.65,504.12 L174.93,503.80 L176.20,503.48 L177.47,503.16 L178.73,502.86 L179.99,502.55 L181.24,502.26 L182.49,501.97 L183.74,501.68 L184.98,501.40 L186.21,501.13 L187.44,500.86 L188.67,500.60 L189.89,500.34 L191.11,500.09 L192.32,499.84 L193.53,499.60 L194.73,499.36 L195.93,499.13 L197.12,498.91 L198.31,498.69 L199.49,498.47 L200.67,498.26 L201.85,498.06 L203.02,497.86 L204.18,497.67 L205.34,497.48 L206.49,497.29 L207.64,497.12 L208.79,496.94 L209.93,496.77 L211.07,496.61 L212.20,496.45 L213.32,496.30 L214.44,496.15 L215.56,496.01 L216.67,495.87 L217.78,495.74 L218.88,495.61 L219.98,495.49 L221.07,495.37 L222.16,495.25 L223.24,495.14 L224.31,495.04 L225.39,494.94 L226.45,494.84 L227.51,494.75 L228.57,494.67 L229.62,494.59 L230.67,494.51 L231.71,494.44 L232.75,494.37 L233.78,494.31 L234.81,494.25 L235.83,494.20 L236.85,494.15 L237.86,494.11 L238.87,494.07 L239.87,494.03 L240.87,494.00 L241.86,493.97 L242.84,493.95 L243.82,493.93 L244.80,493.92 L245.77,493.91 L246.74,493.90 L247.70,493.90 L248.65,493.90 L249.61,493.91 L250.55,493.92 L251.49,493.94 L252.43,493.96 L253.36,493.98 L254.28,494.01 L255.20,494.04 L256.12,494.08 L257.02,494.12 L257.93,494.16 L258.83,494.21 L259.72,494.26 L260.61,494.32 L261.49,494.37 L262.37,494.44 L263.24,494.50 L264.11,494.58 L264.97,494.65 L265.83,494.73 L266.68,494.81 L267.53,494.90 L268.37,494.99 L269.20,495.08 L270.03,495.18 L270.86,495.28 L271.68,495.38 L272.49,495.49 L273.30,495.60 L274.10,495.71 L274.90,495.83 L275.70,495.95 L276.48,496.08 L277.27,496.20 L278.04,496.34 L278.81,496.47 L279.58,496.61 L280.34,496.75 L281.10,496.90 L281.85,497.04 L282.59,497.20 L283.33,497.35 L284.06,497.51 L284.79,497.67 L285.51,497.83 L286.23,498.00 L286.94,498.17 L287.65,498.34 L288.35,498.52 L289.05,498.70 L289.74,498.88 L290.42,499.07 L291.10,499.26 L291.77,499.45 L292.44,499.64 L293.11,499.84 L293.76,500.04 L294.41,500.24 L295.06,500.45 L295.70,500.65 L296.34,500.87 L296.97,501.08 L297.59,501.30 L298.21,501.52 L298.82,501.74 L299.43,501.96 L300.03,502.19 L300.63,502.42 L301.22,502.65 L301.81,502.89 L302.39,503.12 L302.96,503.36 L303.53,503.60 L304.09,503.85 L304.65,504.10 L305.20,504.35 L305.75,504.60 L306.29,504.85 L306.82,505.11 L307.35,505.37 L307.88,505.63 L308.40,505.89 L308.91,506.16 L309.42,506.42 L309.92,506.69 L310.41,506.97 L310.90,507.24 L311.39,507.52 L311.87,507.79 L312.34,508.07 L312.81,508.36 L313.27,508.64 L313.73,508.93 L314.18,509.22 L314.62,509.51 L315.06,509.80 L315.50,510.09 L315.92,510.39 L316.35,510.69 L316.76,510.98 L317.18,511.29 L317.58,511.59 L317.98,511.89 L318.37,512.20 L318.76,512.51 L319.15,512.82 L319.52,513.13 L319.89,513.44 L320.26,513.76 L320.62,514.07 L320.97,514.39 L321.32,514.71 L321.67,515.03 L322.00,515.35 L322.33,515.67 L322.66,516.00 L322.98,516.33 L323.29,516.65 L323.60,516.98 L323.91,517.31 L324.20,517.64 L324.49,517.98 L324.78,518.31 L325.06,518.65 L325.33,518.98 L325.60,519.32 L325.87,519.66 L326.12,520.00 L326.37,520.34 L326.62,520.68 L326.86,521.02 L327.09,521.37 L327.32,521.71 L327.54,522.06 L327.76,522.41 L327.97,522.75 L328.18,523.10 L328.38,523.45 L328.57,523.80 L328.76,524.15 L328.94,524.51 L329.12,524.86 L329.29,525.21 L329.45,525.57 L329.61,525.92 L329.76,526.28 L329.91,526.63 L330.05,526.99 L330.19,527.35 L330.32,527.71 L330.44,528.06 L330.56,528.42 L330.67,528.78 L330.78,529.14 L330.88,529.50 L330.98,529.86 L331.07,530.23 L331.15,530.59 L331.23,530.95 L331.30,531.31 L331.37,531.67 L331.43,532.04 L331.48,532.40 L331.53,532.76 L331.58,533.13 L331.61,533.49 L331.65,533.85 L331.67,534.22 L331.69,534.58 L331.71,534.95 L331.72,535.31 L331.72,535.67 L331.72,536.04 L331.71,536.40 L331.69,536.77 L331.67,537.13 L331.65,537.50 L331.61,537.86 L331.58,538.22 L331.53,538.59 L331.48,538.95 L331.43,539.31 L331.37,539.68 L331.30,540.04 L331.23,540.40 L331.15,540.76 L331.07,541.12 L330.98,541.49 L330.88,541.85 L330.78,542.21 L330.67,542.57 L330.56,542.93 L330.44,543.29 L330.32,543.64 L330.19,544.00 L330.05,544.36 L329.91,544.72 L329.76,545.07 L329.61,545.43 L329.45,545.78 L329.29,546.14 L329.12,546.49 L328.94,546.84 L328.76,547.20 L328.57,547.55 L328.38,547.90 L328.18,548.25 L327.97,548.60 L327.76,548.94 L327.54,549.29 L327.32,549.64 L327.09,549.98 L326.86,550.33 L326.62,550.67 L326.37,551.01 L326.12,551.35 L325.87,551.69 L325.60,552.03 L325.33,552.37 L325.06,552.70 L324.78,553.04 L324.49,553.37 L324.20,553.71 L323.91,554.04 L323.60,554.37 L323.29,554.70 L322.98,555.02 L322.66,555.35 L322.33,555.68 L322.00,556.00 L321.67,556.32 L321.32,556.64 L320.97,556.96 L320.62,557.28 L320.26,557.59 L319.89,557.91 L319.52,558.22 L319.15,558.53 L318.76,558.84 L318.37,559.15 L317.98,559.46 L317.58,559.76 L317.18,560.06 L316.76,560.37 L316.35,560.66 L315.92,560.96 L315.50,561.26 L315.06,561.55 L314.62,561.84 L314.18,562.13 L313.73,562.42 L313.27,562.71 L312.81,562.99 L312.34,563.28 L311.87,563.56 L311.39,563.83 L310.90,564.11 L310.41,564.38 L309.92,564.66 L309.42,564.93 L308.91,565.19 L308.40,565.46 L307.88,565.72 L307.35,565.98 L306.82,566.24 L306.29,566.50 L305.75,566.75 L305.20,567.00 L304.65,567.25 L304.09,567.50 L303.53,567.75 L302.96,567.99 L302.39,568.23 L301.81,568.46 L301.22,568.70 L300.63,568.93 L300.03,569.16 L299.43,569.39 L298.82,569.61 L298.21,569.83 L297.59,570.05 L296.97,570.27 L296.34,570.48 L295.70,570.70 L295.06,570.90 L294.41,571.11 L293.76,571.31 L293.11,571.51 L292.44,571.71 L291.77,571.90 L291.10,572.09 L290.42,572.28 L289.74,572.47 L289.05,572.65 L288.35,572.83 L287.65,573.01 L286.94,573.18 L286.23,573.35 L285.51,573.52 L284.79,573.68 L284.06,573.84 L283.33,574.00 L282.59,574.15 L281.85,574.31 L281.10,574.45 L280.34,574.60 L279.58,574.74 L278.81,574.88 L278.04,575.01 L277.27,575.15 L276.48,575.27 L275.70,575.40 L274.90,575.52 L274.10,575.64 L273.30,575.75 L272.49,575.86 L271.68,575.97 L270.86,576.07 L270.03,576.17 L269.20,576.27 L268.37,576.36 L267.53,576.45 L266.68,576.54 L265.83,576.62 L264.97,576.70 L264.11,576.77 L263.24,576.85 L262.37,576.91 L261.49,576.98 L260.61,577.03 L259.72,577.09 L258.83,577.14 L257.93,577.19 L257.02,577.23 L256.12,577.27 L255.20,577.31 L254.28,577.34 L253.36,577.37 L252.43,577.39 L251.49,577.41 L250.55,577.43 L249.61,577.44 L248.65,577.45 L247.70,577.45 L246.74,577.45 L245.77,577.44 L244.80,577.43 L243.82,577.42 L242.84,577.40 L241.86,577.38 L240.87,577.35 L239.87,577.32 L238.87,577.28 L237.86,577.24 L236.85,577.20 L235.83,577.15 L234.81,577.10 L233.78,577.04 L232.75,576.98 L231.71,576.91 L230.67,576.84 L229.62,576.76 L228.57,576.68 L227.51,576.60 L226.45,576.51 L225.39,576.41 L224.31,576.31 L223.24,576.21 L222.16,576.10 L221.07,575.98 L219.98,575.86 L218.88,575.74 L217.78,575.61 L216.67,575.48 L215.56,575.34 L214.44,575.20 L213.32,575.05 L212.20,574.90 L211.07,574.74 L209.93,574.58 L208.79,574.41 L207.64,574.23 L206.49,574.06 L205.34,573.87 L204.18,573.68 L203.02,573.49 L201.85,573.29 L200.67,573.09 L199.49,572.88 L198.31,572.66 L197.12,572.44 L195.93,572.22 L194.73,571.99 L193.53,571.75 L192.32,571.51 L191.11,571.26 L189.89,571.01 L188.67,570.75 L187.44,570.49 L186.21,570.22 L184.98,569.95 L183.74,569.67 L182.49,569.38 L181.24,569.09 L179.99,568.80 L178.73,568.49 L177.47,568.19 L176.20,567.87 L174.93,567.55 L173.65,567.23 L172.37,566.90 L171.08,566.56 L169.79,566.22 L168.50,565.87 L167.20,565.52 L165.90,565.16 L164.59,564.79 L163.27,564.42 L161.96,564.04 L160.64,563.66 L159.31,563.27 L157.98,562.88 L156.64,562.47 L155.30,562.07 L153.96,561.65 L152.61,561.23 L151.26,560.81 L149.90,560.38 L148.54,559.94 L147.17,559.49 L145.80,559.04 L144.43,558.59 L143.05,558.12 L141.67,557.65 L140.28,557.18 L138.89,556.70 L137.49,556.21 L136.09,555.71 L134.69,555.21 L133.28,554.71 L131.87,554.19 L130.45,553.67 L129.03,553.15 L127.61,552.61 L126.18,552.07 L124.74,551.53 L123.30,550.97 L121.86,550.41 L120.42,549.85 L118.97,549.28 L117.51,548.70 L116.05,548.11 L114.59,547.52 L113.12,546.92 L111.65,546.31 L110.18,545.70 L108.70,545.08 L107.22,544.45 L105.73,543.82 L104.24,543.18 L102.75,542.53 L101.25,541.88 L99.74,541.22 L98.24,540.55 L96.73,539.87 L95.21,539.19 L93.69,538.50 L92.17,537.81 L90.65,537.10 L89.12,536.39 L87.58,535.68Z" fill="none" stroke="#000" stroke-width="1.3"/>
<path d="M-1618.59,34.43 L-1609.98,39.46 L-1601.38,44.46 L-1592.81,49.44 L-1584.25,54.40 L-1575.71,59.32 L-1567.19,64.22 L-1558.68,69.10 L-1550.20,73.95 L-1541.74,78.77 L-1533.29,83.57 L-1524.86,88.34 L-1516.45,93.09 L-1508.06,97.81 L-1499.69,102.50 L-1491.34,107.17 L-1483.01,111.82 L-1474.69,116.44 L-1466.40,121.03 L-1458.12,125.60 L-1449.86,130.15 L-1441.62,134.66 L-1433.40,139.16 L-1425.20,143.63 L-1417.01,148.07 L-1408.85,152.49 L-1400.70,156.89 L-1392.58,161.26 L-1384.47,165.60 L-1376.38,169.92 L-1368.31,174.22 L-1360.26,178.49 L-1352.22,182.74 L-1344.21,186.96 L-1336.21,191.16 L-1328.24,195.33 L-1320.28,199.48 L-1312.34,203.61 L-1304.42,207.71 L-1296.52,211.79 L-1288.64,215.84 L-1280.77,219.87 L-1272.93,223.88 L-1265.10,227.86 L-1257.29,231.82 L-1249.51,235.75 L-1241.74,239.67 L-1233.99,243.55 L-1226.25,247.42 L-1218.54,251.26 L-1210.85,255.08 L-1203.17,258.87 L-1195.51,262.64 L-1187.88,266.39 L-1180.26,270.12 L-1172.66,273.82 L-1165.08,277.50 L-1157.52,281.15 L-1149.97,284.78 L-1142.45,288.39 L-1134.94,291.98 L-1127.46,295.55 L-1119.99,299.09 L-1112.54,302.61 L-1105.11,306.10 L-1097.70,309.58 L-1090.31,313.03 L-1082.93,316.46 L-1075.58,319.87 L-1068.24,323.25 L-1060.93,326.62 L-1053.63,329.96 L-1046.35,333.27 L-1039.09,336.57 L-1031.85,339.85 L-1024.63,343.10 L-1017.43,346.33 L-1010.24,349.54 L-1003.08,352.72 L-995.93,355.89 L-988.80,359.03 L-981.70,362.16 L-974.61,365.26 L-967.54,368.34 L-960.48,371.40 L-953.45,374.43 L-946.44,377.45 L-939.44,380.44 L-932.47,383.41 L-925.51,386.37 L-918.57,389.30 L-911.65,392.21 L-904.75,395.10 L-897.87,397.97 L-891.01,400.81 L-884.17,403.64 L-877.35,406.45 L-870.54,409.23 L-863.75,412.00 L-856.99,414.74 L-850.24,417.46 L-843.51,420.17 L-836.80,422.85 L-830.11,425.51 L-823.44,428.16 L-816.79,430.78 L-810.15,433.38 L-803.54,435.96 L-796.94,438.53 L-790.36,441.07 L-783.81,443.59 L-777.27,446.09 L-770.75,448.58 L-764.25,451.04 L-757.76,453.49 L-751.30,455.91 L-744.86,458.31 L-738.43,460.70 L-732.03,463.07 L-725.64,465.41 L-719.27,467.74 L-712.92,470.05 L-706.59,472.34 L-700.28,474.61 L-693.99,476.86 L-687.72,479.09 L-681.47,481.30 L-675.23,483.49 L-669.02,485.67 L-662.82,487.83 L-656.64,489.96 L-650.49,492.08 L-644.35,494.18 L-638.23,496.26 L-632.13,498.33 L-626.04,500.37 L-619.98,502.40 L-613.94,504.41 L-607.91,506.40 L-601.91,508.37 L-595.92,510.32 L-589.95,512.26 L-584.01,514.18 L-578.08,516.08 L-572.17,517.96 L-566.28,519.82 L-560.40,521.67 L-554.55,523.50 L-548.72,525.31 L-542.90,527.10 L-537.11,528.88 L-531.33,530.64 L-525.57,532.38 L-519.84,534.10 L-514.12,535.81 L-508.42,537.50 L-502.74,539.17 L-497.07,540.83 L-491.43,542.46 L-485.81,544.08 L-480.20,545.69 L-474.62,547.27 L-469.05,548.84 L-463.51,550.40 L-457.98,551.93 L-452.47,553.45 L-446.98,554.96 L-441.51,556.44 L-436.06,557.91 L-430.63,559.37 L-425.21,560.81 L-419.82,562.23 L-414.44,563.63 L-409.09,565.02 L-403.75,566.39 L-398.43,567.75 L-393.14,569.09 L-387.86,570.42 L-382.60,571.72 L-377.36,573.02 L-372.14,574.29 L-366.93,575.56 L-361.75,576.80 L-356.59,578.03 L-351.44,579.25 L-346.32,580.45 L-341.21,581.63 L-336.12,582.80 L-331.06,583.95 L-326.01,585.09 L-320.98,586.21 L-315.97,587.32 L-310.97,588.41 L-306.00,589.49 L-301.05,590.55 L-296.12,591.60 L-291.20,592.63 L-286.31,593.65 L-281.43,594.65 L-276.57,595.64 L-271.74,596.61 L-266.92,597.57 L-262.12,598.52 L-257.34,599.45 L-252.58,600.36 L-247.84,601.26 L-243.11,602.15 L-238.41,603.02 L-233.73,603.88 L-229.06,604.73 L-224.41,605.56 L-219.79,606.38 L-215.18,607.18 L-210.59,607.97 L-206.02,608.74 L-201.48,609.50 L-196.95,610.25 L-192.43,610.99 L-187.94,611.71 L-183.47,612.41 L-179.02,613.11 L-174.58,613.79 L-170.17,614.45 L-165.77,615.11 L-161.40,615.75 L-157.04,616.38 L-152.70,616.99 L-148.38,617.59 L-144.08,618.18 L-139.80,618.75 L-135.54,619.32 L-131.30,619.87 L-127.08,620.40 L-122.87,620.93 L-118.69,621.44 L-114.53,621.94 L-110.38,622.42 L-106.25,622.90 L-102.15,623.36 L-98.06,623.81 L-93.99,624.25 L-89.94,624.67 L-85.91,625.08 L-81.90,625.48 L-77.91,625.87 L-73.94,626.25 L-69.99,626.61 L-66.05,626.97 L-62.14,627.31 L-58.25,627.64 L-54.37,627.95 L-50.51,628.26 L-46.68,628.55 L-42.86,628.84 L-39.06,629.11 L-35.28,629.37 L-31.52,629.62 L-27.78,629.85 L-24.06,630.08 L-20.36,630.29 L-16.68,630.50 L-13.01,630.69 L-9.37,630.87 L-5.74,631.04 L-2.14,631.20 L1.45,631.35 L5.01,631.49 L8.56,631.62 L12.09,631.73 L15.60,631.84 L19.09,631.93 L22.56,632.02 L26.01,632.09 L29.44,632.16 L32.85,632.21 L36.25,632.26 L39.62,632.29 L42.98,632.31 L46.31,632.33 L49.63,632.33 L52.92,632.32 L56.20,632.31 L59.46,632.28 L62.70,632.25 L65.91,632.20 L69.11,632.14 L72.29,632.08 L75.46,632.00 L78.60,631.92 L81.72,631.83 L84.82,631.72 L87.91,631.61 L90.97,631.49 L94.02,631.36 L97.04,631.22 L100.05,631.07 L103.04,630.91 L106.00,630.75 L108.95,630.57 L111.88,630.39 L114.79,630.20 L117.68,629.99 L120.55,629.78 L123.40,629.56 L126.24,629.34 L129.05,629.10 L131.84,628.86 L134.62,628.60 L137.37,628.34 L140.11,628.07 L142.82,627.79 L145.52,627.51 L148.20,627.21 L150.86,626.91 L153.50,626.60 L156.12,626.28 L158.72,625.96 L161.30,625.62 L163.86,625.28 L166.40,624.93 L168.92,624.58 L171.43,624.21 L173.91,623.84 L176.37,623.46 L178.82,623.08 L181.24,622.68 L183.65,622.28 L186.04,621.87 L188.41,621.46 L190.75,621.04 L193.08,620.61 L195.39,620.17 L197.68,619.73 L199.95,619.28 L202.21,618.82 L204.44,618.36 L206.65,617.88 L208.84,617.41 L211.02,616.92 L213.17,616.43 L215.31,615.94 L217.42,615.43 L219.52,614.93 L221.60,614.41 L223.65,613.89 L225.69,613.36 L227.71,612.83 L229.71,612.29 L231.69,611.74 L233.65,611.19 L235.59,610.63 L237.51,610.07 L239.42,609.50 L241.30,608.92 L243.16,608.34 L245.01,607.75 L246.83,607.16 L248.64,606.57 L250.42,605.96 L252.19,605.35 L253.94,604.74 L255.67,604.12 L257.38,603.50 L259.06,602.87 L260.73,602.24 L262.38,601.60 L264.02,600.95 L265.63,600.31 L267.22,599.65 L268.79,598.99 L270.35,598.33 L271.88,597.66 L273.39,596.99 L274.89,596.32 L276.37,595.63 L277.82,594.95 L279.26,594.26 L280.68,593.56 L282.07,592.87 L283.45,592.16 L284.81,591.46 L286.15,590.75 L287.47,590.03 L288.77,589.31 L290.06,588.59 L291.32,587.86 L292.56,587.13 L293.78,586.40 L294.99,585.66 L296.17,584.92 L297.34,584.18 L298.48,583.43 L299.61,582.68 L300.72,581.92 L301.80,581.16 L302.87,580.40 L303.92,579.64 L304.95,578.87 L305.96,578.10 L306.95,577.33 L307.92,576.55 L308.87,575.77 L309.81,574.99 L310.72,574.20 L311.61,573.42 L312.49,572.62 L313.34,571.83 L314.18,571.04 L314.99,570.24 L315.79,569.44 L316.57,568.63 L317.32,567.83 L318.06,567.02 L318.78,566.21 L319.48,565.40 L320.16,564.59 L320.82,563.77 L321.46,562.95 L322.08,562.13 L322.68,561.31 L323.27,560.49 L323.83,559.66 L324.37,558.84 L324.90,558.01 L325.40,557.18 L325.89,556.35 L326.36,555.51 L326.80,554.68 L327.23,553.84 L327.64,553.01 L328.03,552.17 L328.39,551.33 L328.74,550.49 L329.07,549.65 L329.39,548.81 L329.68,547.96 L329.95,547.12 L330.20,546.28 L330.43,545.43 L330.65,544.58 L330.84,543.74 L331.02,542.89 L331.17,542.04 L331.31,541.19 L331.42,540.35 L331.52,539.50 L331.60,538.65 L331.66,537.80 L331.70,536.95 L331.72,536.10 L331.72,535.25 L331.70,534.40 L331.66,533.55 L331.60,532.70 L331.52,531.85 L331.42,531.00 L331.31,530.16 L331.17,529.31 L331.02,528.46 L330.84,527.61 L330.65,526.77 L330.43,525.92 L330.20,525.07 L329.95,524.23 L329.68,523.39 L329.39,522.54 L329.07,521.70 L328.74,520.86 L328.39,520.02 L328.03,519.18 L327.64,518.34 L327.23,517.51 L326.80,516.67 L326.36,515.84 L325.89,515.00 L325.40,514.17 L324.90,513.34 L324.37,512.51 L323.83,511.69 L323.27,510.86 L322.68,510.04 L322.08,509.22 L321.46,508.40 L320.82,507.58 L320.16,506.76 L319.48,505.95 L318.78,505.14 L318.06,504.33 L317.32,503.52 L316.57,502.72 L315.79,501.91 L314.99,501.11 L314.18,500.31 L313.34,499.52 L312.49,498.73 L311.61,497.93 L310.72,497.15 L309.81,496.36 L308.87,495.58 L307.92,494.80 L306.95,494.02 L305.96,493.25 L304.95,492.48 L303.92,491.71 L302.87,490.95 L301.80,490.19 L300.72,489.43 L299.61,488.67 L298.48,487.92 L297.34,487.17 L296.17,486.43 L294.99,485.69 L293.78,484.95 L292.56,484.22 L291.32,483.49 L290.06,482.76 L288.77,482.04 L287.47,481.32 L286.15,480.60 L284.81,479.89 L283.45,479.19 L282.07,478.48 L280.68,477.79 L279.26,477.09 L277.82,476.40 L276.37,475.72 L274.89,475.03 L273.39,474.36 L271.88,473.69 L270.35,473.02 L268.79,472.36 L267.22,471.70 L265.63,471.04 L264.02,470.40 L262.38,469.75 L260.73,469.11 L259.06,468.48 L257.38,467.85 L255.67,467.23 L253.94,466.61 L252.19,466.00 L250.42,465.39 L248.64,464.78 L246.83,464.19 L245.01,463.60 L243.16,463.01 L241.30,462.43 L239.42,461.85 L237.51,461.28 L235.59,460.72 L233.65,460.16 L231.69,459.61 L229.71,459.06 L227.71,458.52 L225.69,457.99 L223.65,457.46 L221.60,456.94 L219.52,456.42 L217.42,455.92 L215.31,455.41 L213.17,454.92 L211.02,454.43 L208.84,453.94 L206.65,453.47 L204.44,452.99 L202.21,452.53 L199.95,452.07 L197.68,451.62 L195.39,451.18 L193.08,450.74 L190.75,450.31 L188.41,449.89 L186.04,449.48 L183.65,449.07 L181.24,448.67 L178.82,448.27 L176.37,447.89 L173.91,447.51 L171.43,447.14 L168.92,446.77 L166.40,446.42 L163.86,446.07 L161.30,445.73 L158.72,445.39 L156.12,445.07 L153.50,444.75 L150.86,444.44 L148.20,444.14 L145.52,443.84 L142.82,443.56 L140.11,443.28 L137.37,443.01 L134.62,442.75 L131.84,442.49 L129.05,442.25 L126.24,442.01 L123.40,441.79 L120.55,441.57 L117.68,441.36 L114.79,441.15 L111.88,440.96 L108.95,440.78 L106.00,440.60 L103.04,440.44 L100.05,440.28 L97.04,440.13 L94.02,439.99 L90.97,439.86 L87.91,439.74 L84.82,439.63 L81.72,439.52 L78.60,439.43 L75.46,439.35 L72.29,439.27 L69.11,439.21 L65.91,439.15 L62.70,439.10 L59.46,439.07 L56.20,439.04 L52.92,439.03 L49.63,439.02 L46.31,439.02 L42.98,439.04 L39.62,439.06 L36.25,439.09 L32.85,439.14 L29.44,439.19 L26.01,439.26 L22.56,439.33 L19.09,439.42 L15.60,439.51 L12.09,439.62 L8.56,439.73 L5.01,439.86 L1.45,440.00 L-2.14,440.15 L-5.74,440.31 L-9.37,440.48 L-13.01,440.66 L-16.68,440.85 L-20.36,441.06 L-24.06,441.27 L-27.78,441.50 L-31.52,441.73 L-35.28,441.98 L-39.06,442.24 L-42.86,442.51 L-46.68,442.80 L-50.51,443.09 L-54.37,443.40 L-58.25,443.71 L-62.14,444.04 L-66.05,444.38 L-69.99,444.74 L-73.94,445.10 L-77.91,445.48 L-81.90,445.87 L-85.91,446.27 L-89.94,446.68 L-93.99,447.10 L-98.06,447.54 L-102.15,447.99 L-106.25,448.45 L-110.38,448.93 L-114.53,449.41 L-118.69,449.91 L-122.87,450.42 L-127.08,450.95 L-131.30,451.48 L-135.54,452.03 L-139.80,452.60 L-144.08,453.17 L-148.38,453.76 L-152.70,454.36 L-157.04,454.97 L-161.40,455.60 L-165.77,456.24 L-170.17,456.90 L-174.58,457.56 L-179.02,458.24 L-183.47,458.94 L-187.94,459.64 L-192.43,460.36 L-196.95,461.10 L-201.48,461.85 L-206.02,462.61 L-210.59,463.38 L-215.18,464.17 L-219.79,464.97 L-224.41,465.79 L-229.06,466.62 L-233.73,467.47 L-238.41,468.33 L-243.11,469.20 L-247.84,470.09 L-252.58,470.99 L-257.34,471.90 L-262.12,472.83 L-266.92,473.78 L-271.74,474.74 L-276.57,475.71 L-281.43,476.70 L-286.31,477.70 L-291.20,478.72 L-296.12,479.75 L-301.05,480.80 L-306.00,481.86 L-310.97,482.94 L-315.97,484.03 L-320.98,485.14 L-326.01,486.26 L-331.06,487.40 L-336.12,488.55 L-341.21,489.72 L-346.32,490.90 L-351.44,492.10 L-356.59,493.32 L-361.75,494.55 L-366.93,495.79 L-372.14,497.06 L-377.36,498.33 L-382.60,499.63 L-387.86,500.93 L-393.14,502.26 L-398.43,503.60 L-403.75,504.96 L-409.09,506.33 L-414.44,507.72 L-419.82,509.12 L-425.21,510.54 L-430.63,511.98 L-436.06,513.44 L-441.51,514.91 L-446.98,516.39 L-452.47,517.90 L-457.98,519.42 L-463.51,520.95 L-469.05,522.51 L-474.62,524.08 L-480.20,525.66 L-485.81,527.27 L-491.43,528.89 L-497.07,530.52 L-502.74,532.18 L-508.42,533.85 L-514.12,535.54 L-519.84,537.25 L-525.57,538.97 L-531.33,540.71 L-537.11,542.47 L-542.90,544.25 L-548.72,546.04 L-554.55,547.85 L-560.40,549.68 L-566.28,551.53 L-572.17,553.39 L-578.08,555.27 L-584.01,557.17 L-589.95,559.09 L-595.92,561.03 L-601.91,562.98 L-607.91,564.95 L-613.94,566.94 L-619.98,568.95 L-626.04,570.98 L-632.13,573.02 L-638.23,575.09 L-644.35,577.17 L-650.49,579.27 L-656.64,581.39 L-662.82,583.52 L-669.02,585.68 L-675.23,587.86 L-681.47,590.05 L-687.72,592.26 L-693.99,594.49 L-700.28,596.74 L-706.59,599.01 L-712.92,601.30 L-719.27,603.61 L-725.64,605.94 L-732.03,608.28 L-738.43,610.65 L-744.86,613.04 L-751.30,615.44 L-757.76,617.86 L-764.25,620.31 L-770.75,622.77 L-777.27,625.26 L-783.81,627.76 L-790.36,630.28 L-796.94,632.82 L-803.54,635.39 L-810.15,637.97 L-816.79,640.57 L-823.44,643.19 L-830.11,645.84 L-836.80,648.50 L-843.51,651.18 L-850.24,653.89 L-856.99,656.61 L-863.75,659.35 L-870.54,662.12 L-877.35,664.90 L-884.17,667.71 L-891.01,670.54 L-897.87,673.38 L-904.75,676.25 L-911.65,679.14 L-918.57,682.05 L-925.51,684.98 L-932.47,687.94 L-939.44,690.91 L-946.44,693.90 L-953.45,696.92 L-960.48,699.95 L-967.54,703.01 L-974.61,706.09 L-981.70,709.19 L-988.80,712.32 L-995.93,715.46 L-1003.08,718.63 L-1010.24,721.81 L-1017.43,725.02 L-1024.63,728.25 L-1031.85,731.50 L-1039.09,734.78 L-1046.35,738.08 L-1053.63,741.39 L-1060.93,744.73 L-1068.24,748.10 L-1075.58,751.48 L-1082.93,754.89 L-1090.31,758.32 L-1097.70,761.77 L-1105.11,765.25 L-1112.54,768.74 L-1119.99,772.26 L-1127.46,775.80 L-1134.94,779.37 L-1142.45,782.96 L-1149.97,786.57 L-1157.52,790.20 L-1165.08,793.85 L-1172.66,797.53 L-1180.26,801.23 L-1187.88,804.96 L-1195.51,808.71 L-1203.17,812.48 L-1210.85,816.27 L-1218.54,820.09 L-1226.25,823.93 L-1233.99,827.80 L-1241.74,831.68 L-1249.51,835.60 L-1257.29,839.53 L-1265.10,843.49 L-1272.93,847.47 L-1280.77,851.48 L-1288.64,855.51 L-1296.52,859.56 L-1304.42,863.64 L-1312.34,867.74 L-1320.28,871.87 L-1328.24,876.02 L-1336.21,880.19 L-1344.21,884.39 L-1352.22,888.61 L-1360.26,892.86 L-1368.31,897.13 L-1376.38,901.43 L-1384.47,905.75 L-1392.58,910.09 L-1400.70,914.46 L-1408.85,918.86 L-1417.01,923.28 L-1425.20,927.72 L-1433.40,932.19 L-1441.62,936.69 L-1449.86,941.20 L-1458.12,945.75 L-1466.40,950.32 L-1474.69,954.91 L-1483.01,959.53 L-1491.34,964.18 L-1499.69,968.85 L-1508.06,973.54 L-1516.45,978.26 L-1524.86,983.01 L-1533.29,987.78 L-1541.74,992.58 L-1550.20,997.40 L-1558.68,1002.25 L-1567.19,1007.13 L-1575.71,1012.03 L-1584.25,1016.95 L-1592.81,1021.91 L-1601.38,1026.89 L-1609.98,1031.89 L-1618.59,1036.92" fill="none" stroke="#000" stroke-width="1.3"/>
</g>
<rect x="72.15" y="385.45" width="296.65" height="300.45" fill="none" stroke="#1c1c1c" stroke-width="1.0"/>
<path d="M72.15,685.9v-5.4M72.15,385.45v5.4M133.95,685.9v-5.4M133.95,385.45v5.4M195.75,685.9v-5.4M195.75,385.45v5.4M257.56,685.9v-5.4M257.56,385.45v5.4M319.36,685.9v-5.4M319.36,385.45v5.4M84.51,685.9v-2.4M84.51,385.45v2.4M96.87,685.9v-2.4M96.87,385.45v2.4M109.23,685.9v-2.4M109.23,385.45v2.4M121.59,685.9v-2.4M121.59,385.45v2.4M146.31,685.9v-2.4M146.31,385.45v2.4M158.67,685.9v-2.4M158.67,385.45v2.4M171.03,685.9v-2.4M171.03,385.45v2.4M183.39,685.9v-2.4M183.39,385.45v2.4M208.11,685.9v-2.4M208.11,385.45v2.4M220.47,685.9v-2.4M220.47,385.45v2.4M232.84,685.9v-2.4M232.84,385.45v2.4M245.20,685.9v-2.4M245.20,385.45v2.4M269.92,685.9v-2.4M269.92,385.45v2.4M282.28,685.9v-2.4M282.28,385.45v2.4M294.64,685.9v-2.4M294.64,385.45v2.4M307.00,685.9v-2.4M307.00,385.45v2.4M331.72,685.9v-2.4M331.72,385.45v2.4M344.08,685.9v-2.4M344.08,385.45v2.4M356.44,685.9v-2.4M356.44,385.45v2.4M368.80,685.9v-2.4M368.80,385.45v2.4M72.15,660.86h5.4M368.8,660.86h-5.4M72.15,598.27h5.4M368.8,598.27h-5.4M72.15,535.67h5.4M368.8,535.67h-5.4M72.15,473.08h5.4M368.8,473.08h-5.4M72.15,410.49h5.4M368.8,410.49h-5.4M72.15,685.90h2.4M368.8,685.90h-2.4M72.15,673.38h2.4M368.8,673.38h-2.4M72.15,648.34h2.4M368.8,648.34h-2.4M72.15,635.82h2.4M368.8,635.82h-2.4M72.15,623.31h2.4M368.8,623.31h-2.4M72.15,610.79h2.4M368.8,610.79h-2.4M72.15,585.75h2.4M368.8,585.75h-2.4M72.15,573.23h2.4M368.8,573.23h-2.4M72.15,560.71h2.4M368.8,560.71h-2.4M72.15,548.19h2.4M368.8,548.19h-2.4M72.15,523.16h2.4M368.8,523.16h-2.4M72.15,510.64h2.4M368.8,510.64h-2.4M72.15,498.12h2.4M368.8,498.12h-2.4M72.15,485.60h2.4M368.8,485.60h-2.4M72.15,460.56h2.4M368.8,460.56h-2.4M72.15,448.04h2.4M368.8,448.04h-2.4M72.15,435.52h2.4M368.8,435.52h-2.4M72.15,423.01h2.4M368.8,423.01h-2.4M72.15,397.97h2.4M368.8,397.97h-2.4M72.15,385.45h2.4M368.8,385.45h-2.4" fill="none" stroke="#1c1c1c" stroke-width="0.85"/>
</g>
<g id="panelD">
<g clip-path="url(#clipD)">
<circle cx="695.58" cy="534.70" r="35.06" fill="#c2c2c2" stroke="none"/>
<path d="M467.7,534.70H765.7M695.58,383.6V685.8" stroke="#2a2a2a" stroke-width="0.8" fill="none"/>
<circle cx="695.58" cy="534.70" r="35.06" fill="none" stroke="#000" stroke-width="2.1" stroke-dasharray="2.200 3.919" stroke-dashoffset="1.100"/>
<path d="M572.33,383.60 L573.60,384.21 L574.86,384.81 L576.12,385.42 L577.37,386.03 L578.62,386.63 L579.87,387.24 L581.10,387.85 L582.34,388.45 L583.57,389.06 L584.79,389.67 L586.01,390.28 L587.22,390.88 L588.43,391.49 L589.63,392.10 L590.83,392.70 L592.02,393.31 L593.21,393.92 L594.39,394.52 L595.57,395.13 L596.74,395.74 L597.91,396.34 L599.07,396.95 L600.22,397.56 L601.38,398.16 L602.52,398.77 L603.66,399.38 L604.80,399.98 L605.93,400.59 L607.06,401.20 L608.18,401.80 L609.29,402.41 L610.40,403.02 L611.51,403.63 L612.61,404.23 L613.71,404.84 L614.80,405.45 L615.88,406.05 L616.96,406.66 L618.04,407.27 L619.11,407.87 L620.17,408.48 L621.23,409.09 L622.29,409.69 L623.34,410.30 L624.38,410.91 L625.42,411.51 L626.45,412.12 L627.48,412.73 L628.51,413.33 L629.52,413.94 L630.54,414.55 L631.55,415.16 L632.55,415.76 L633.55,416.37 L634.54,416.98 L635.53,417.58 L636.51,418.19 L637.49,418.80 L638.46,419.40 L639.43,420.01 L640.39,420.62 L641.35,421.22 L642.30,421.83 L643.25,422.44 L644.19,423.04 L645.13,423.65 L646.06,424.26 L646.99,424.86 L647.91,425.47 L648.83,426.08 L649.74,426.68 L650.65,427.29 L651.55,427.90 L652.44,428.51 L653.33,429.11 L654.22,429.72 L655.10,430.33 L655.98,430.93 L656.85,431.54 L657.71,432.15 L658.57,432.75 L659.43,433.36 L660.28,433.97 L661.13,434.57 L661.97,435.18 L662.80,435.79 L663.63,436.39 L664.45,437.00 L665.27,437.61 L666.09,438.21 L666.90,438.82 L667.70,439.43 L668.50,440.03 L669.30,440.64 L670.09,441.25 L670.87,441.86 L671.65,442.46 L672.42,443.07 L673.19,443.68 L673.95,444.28 L674.71,444.89 L675.47,445.50 L676.21,446.10 L676.96,446.71 L677.69,447.32 L678.43,447.92 L679.15,448.53 L679.88,449.14 L680.59,449.74 L681.31,450.35 L682.01,450.96 L682.72,451.56 L683.41,452.17 L684.11,452.78 L684.79,453.39 L685.47,453.99 L686.15,454.60 L686.82,455.21 L687.49,455.81 L688.15,456.42 L688.81,457.03 L689.46,457.63 L690.10,458.24 L690.74,458.85 L691.38,459.45 L692.01,460.06 L692.64,460.67 L693.26,461.27 L693.87,461.88 L694.48,462.49 L695.09,463.09 L695.69,463.70 L696.28,464.31 L696.87,464.91 L697.46,465.52 L698.04,466.13 L698.61,466.74 L699.18,467.34 L699.75,467.95 L700.30,468.56 L700.86,469.16 L701.41,469.77 L701.95,470.38 L702.49,470.98 L703.02,471.59 L703.55,472.20 L704.08,472.80 L704.59,473.41 L705.11,474.02 L705.62,474.62 L706.12,475.23 L706.62,475.84 L707.11,476.44 L707.60,477.05 L708.08,477.66 L708.56,478.27 L709.03,478.87 L709.50,479.48 L709.96,480.09 L710.42,480.69 L710.87,481.30 L711.31,481.91 L711.76,482.51 L712.19,483.12 L712.62,483.73 L713.05,484.33 L713.47,484.94 L713.89,485.55 L714.30,486.15 L714.71,486.76 L715.11,487.37 L715.50,487.97 L715.89,488.58 L716.28,489.19 L716.66,489.79 L717.03,490.40 L717.40,491.01 L717.77,491.62 L718.13,492.22 L718.48,492.83 L718.83,493.44 L719.18,494.04 L719.52,494.65 L719.85,495.26 L720.18,495.86 L720.51,496.47 L720.83,497.08 L721.14,497.68 L721.45,498.29 L721.75,498.90 L722.05,499.50 L722.35,500.11 L722.63,500.72 L722.92,501.32 L723.20,501.93 L723.47,502.54 L723.74,503.14 L724.00,503.75 L724.26,504.36 L724.51,504.97 L724.76,505.57 L725.00,506.18 L725.24,506.79 L725.47,507.39 L725.70,508.00 L725.92,508.61 L726.14,509.21 L726.35,509.82 L726.56,510.43 L726.76,511.03 L726.95,511.64 L727.15,512.25 L727.33,512.85 L727.51,513.46 L727.69,514.07 L727.86,514.67 L728.03,515.28 L728.19,515.89 L728.34,516.50 L728.49,517.10 L728.64,517.71 L728.78,518.32 L728.92,518.92 L729.05,519.53 L729.17,520.14 L729.29,520.74 L729.41,521.35 L729.52,521.96 L729.62,522.56 L729.72,523.17 L729.81,523.78 L729.90,524.38 L729.99,524.99 L730.07,525.60 L730.14,526.20 L730.21,526.81 L730.27,527.42 L730.33,528.02 L730.39,528.63 L730.43,529.24 L730.48,529.85 L730.52,530.45 L730.55,531.06 L730.58,531.67 L730.60,532.27 L730.62,532.88 L730.63,533.49 L730.64,534.09 L730.64,534.70" fill="none" stroke="#4a4a4a" stroke-width="0.8" stroke-dasharray="12 4.9 1.5 5.5" stroke-dashoffset="7.6"/>
<path d="M572.33,685.80 L573.60,685.19 L574.86,684.59 L576.12,683.98 L577.37,683.37 L578.62,682.77 L579.87,682.16 L581.10,681.55 L582.34,680.95 L583.57,680.34 L584.79,679.73 L586.01,679.12 L587.22,678.52 L588.43,677.91 L589.63,677.30 L590.83,676.70 L592.02,676.09 L593.21,675.48 L594.39,674.88 L595.57,674.27 L596.74,673.66 L597.91,673.06 L599.07,672.45 L600.22,671.84 L601.38,671.24 L602.52,670.63 L603.66,670.02 L604.80,669.42 L605.93,668.81 L607.06,668.20 L608.18,667.60 L609.29,666.99 L610.40,666.38 L611.51,665.77 L612.61,665.17 L613.71,664.56 L614.80,663.95 L615.88,663.35 L616.96,662.74 L618.04,662.13 L619.11,661.53 L620.17,660.92 L621.23,660.31 L622.29,659.71 L623.34,659.10 L624.38,658.49 L625.42,657.89 L626.45,657.28 L627.48,656.67 L628.51,656.07 L629.52,655.46 L630.54,654.85 L631.55,654.24 L632.55,653.64 L633.55,653.03 L634.54,652.42 L635.53,651.82 L636.51,651.21 L637.49,650.60 L638.46,650.00 L639.43,649.39 L640.39,648.78 L641.35,648.18 L642.30,647.57 L643.25,646.96 L644.19,646.36 L645.13,645.75 L646.06,645.14 L646.99,644.54 L647.91,643.93 L648.83,643.32 L649.74,642.72 L650.65,642.11 L651.55,641.50 L652.44,640.89 L653.33,640.29 L654.22,639.68 L655.10,639.07 L655.98,638.47 L656.85,637.86 L657.71,637.25 L658.57,636.65 L659.43,636.04 L660.28,635.43 L661.13,634.83 L661.97,634.22 L662.80,633.61 L663.63,633.01 L664.45,632.40 L665.27,631.79 L666.09,631.19 L666.90,630.58 L667.70,629.97 L668.50,629.37 L669.30,628.76 L670.09,628.15 L670.87,627.54 L671.65,626.94 L672.42,626.33 L673.19,625.72 L673.95,625.12 L674.71,624.51 L675.47,623.90 L676.21,623.30 L676.96,622.69 L677.69,622.08 L678.43,621.48 L679.15,620.87 L679.88,620.26 L680.59,619.66 L681.31,619.05 L682.01,618.44 L682.72,617.84 L683.41,617.23 L684.11,616.62 L684.79,616.01 L685.47,615.41 L686.15,614.80 L686.82,614.19 L687.49,613.59 L688.15,612.98 L688.81,612.37 L689.46,611.77 L690.10,611.16 L690.74,610.55 L691.38,609.95 L692.01,609.34 L692.64,608.73 L693.26,608.13 L693.87,607.52 L694.48,606.91 L695.09,606.31 L695.69,605.70 L696.28,605.09 L696.87,604.49 L697.46,603.88 L698.04,603.27 L698.61,602.66 L699.18,602.06 L699.75,601.45 L700.30,600.84 L700.86,600.24 L701.41,599.63 L701.95,599.02 L702.49,598.42 L703.02,597.81 L703.55,597.20 L704.08,596.60 L704.59,595.99 L705.11,595.38 L705.62,594.78 L706.12,594.17 L706.62,593.56 L707.11,592.96 L707.60,592.35 L708.08,591.74 L708.56,591.13 L709.03,590.53 L709.50,589.92 L709.96,589.31 L710.42,588.71 L710.87,588.10 L711.31,587.49 L711.76,586.89 L712.19,586.28 L712.62,585.67 L713.05,585.07 L713.47,584.46 L713.89,583.85 L714.30,583.25 L714.71,582.64 L715.11,582.03 L715.50,581.43 L715.89,580.82 L716.28,580.21 L716.66,579.61 L717.03,579.00 L717.40,578.39 L717.77,577.78 L718.13,577.18 L718.48,576.57 L718.83,575.96 L719.18,575.36 L719.52,574.75 L719.85,574.14 L720.18,573.54 L720.51,572.93 L720.83,572.32 L721.14,571.72 L721.45,571.11 L721.75,570.50 L722.05,569.90 L722.35,569.29 L722.63,568.68 L722.92,568.08 L723.20,567.47 L723.47,566.86 L723.74,566.26 L724.00,565.65 L724.26,565.04 L724.51,564.43 L724.76,563.83 L725.00,563.22 L725.24,562.61 L725.47,562.01 L725.70,561.40 L725.92,560.79 L726.14,560.19 L726.35,559.58 L726.56,558.97 L726.76,558.37 L726.95,557.76 L727.15,557.15 L727.33,556.55 L727.51,555.94 L727.69,555.33 L727.86,554.73 L728.03,554.12 L728.19,553.51 L728.34,552.90 L728.49,552.30 L728.64,551.69 L728.78,551.08 L728.92,550.48 L729.05,549.87 L729.17,549.26 L729.29,548.66 L729.41,548.05 L729.52,547.44 L729.62,546.84 L729.72,546.23 L729.81,545.62 L729.90,545.02 L729.99,544.41 L730.07,543.80 L730.14,543.20 L730.21,542.59 L730.27,541.98 L730.33,541.38 L730.39,540.77 L730.43,540.16 L730.48,539.55 L730.52,538.95 L730.55,538.34 L730.58,537.73 L730.60,537.13 L730.62,536.52 L730.63,535.91 L730.64,535.31 L730.64,534.70" fill="none" stroke="#4a4a4a" stroke-width="0.8" stroke-dasharray="12 4.9 1.5 5.5" stroke-dashoffset="7.6"/>
<path d="M522.57,534.70 L523.67,533.68 L524.76,532.68 L525.85,531.69 L526.95,530.71 L528.04,529.73 L529.13,528.77 L530.23,527.81 L531.32,526.87 L532.42,525.93 L533.51,525.00 L534.60,524.09 L535.70,523.18 L536.79,522.28 L537.88,521.39 L538.97,520.51 L540.07,519.63 L541.16,518.77 L542.25,517.92 L543.34,517.07 L544.43,516.23 L545.52,515.41 L546.61,514.59 L547.70,513.78 L548.79,512.98 L549.88,512.19 L550.97,511.41 L552.05,510.63 L553.14,509.87 L554.23,509.11 L555.31,508.36 L556.39,507.63 L557.48,506.90 L558.56,506.18 L559.64,505.46 L560.72,504.76 L561.80,504.06 L562.88,503.38 L563.95,502.70 L565.03,502.03 L566.10,501.37 L567.18,500.72 L568.25,500.08 L569.32,499.44 L570.39,498.82 L571.46,498.20 L572.53,497.59 L573.59,496.99 L574.66,496.40 L575.72,495.81 L576.78,495.24 L577.84,494.67 L578.90,494.11 L579.96,493.56 L581.02,493.02 L582.07,492.48 L583.12,491.96 L584.17,491.44 L585.22,490.93 L586.27,490.43 L587.31,489.93 L588.36,489.45 L589.40,488.97 L590.44,488.50 L591.48,488.04 L592.51,487.59 L593.55,487.14 L594.58,486.70 L595.61,486.27 L596.64,485.85 L597.66,485.44 L598.69,485.03 L599.71,484.63 L600.73,484.24 L601.74,483.86 L602.76,483.49 L603.77,483.12 L604.78,482.76 L605.79,482.41 L606.80,482.06 L607.80,481.73 L608.80,481.40 L609.80,481.07 L610.80,480.76 L611.79,480.45 L612.78,480.15 L613.77,479.86 L614.75,479.58 L615.74,479.30 L616.72,479.03 L617.70,478.77 L618.67,478.51 L619.64,478.26 L620.61,478.02 L621.58,477.79 L622.54,477.56 L623.51,477.34 L624.46,477.13 L625.42,476.93 L626.37,476.73 L627.32,476.54 L628.27,476.35 L629.21,476.18 L630.15,476.01 L631.09,475.84 L632.03,475.69 L632.96,475.54 L633.89,475.39 L634.81,475.26 L635.73,475.13 L636.65,475.00 L637.57,474.89 L638.48,474.78 L639.39,474.68 L640.30,474.58 L641.20,474.49 L642.10,474.41 L642.99,474.33 L643.89,474.26 L644.77,474.20 L645.66,474.14 L646.54,474.09 L647.42,474.05 L648.29,474.01 L649.17,473.98 L650.03,473.95 L650.90,473.93 L651.76,473.92 L652.62,473.91 L653.47,473.91 L654.32,473.92 L655.16,473.93 L656.01,473.95 L656.85,473.97 L657.68,474.00 L658.51,474.04 L659.34,474.08 L660.16,474.13 L660.98,474.18 L661.80,474.24 L662.61,474.30 L663.42,474.37 L664.22,474.45 L665.02,474.53 L665.81,474.62 L666.61,474.71 L667.39,474.81 L668.18,474.92 L668.96,475.03 L669.73,475.14 L670.50,475.26 L671.27,475.39 L672.03,475.52 L672.79,475.66 L673.55,475.80 L674.30,475.95 L675.04,476.10 L675.78,476.26 L676.52,476.43 L677.25,476.59 L677.98,476.77 L678.71,476.95 L679.43,477.13 L680.14,477.32 L680.86,477.51 L681.56,477.71 L682.27,477.92 L682.96,478.13 L683.66,478.34 L684.35,478.56 L685.03,478.78 L685.71,479.01 L686.39,479.24 L687.06,479.48 L687.72,479.72 L688.39,479.97 L689.04,480.22 L689.70,480.48 L690.34,480.74 L690.99,481.00 L691.63,481.27 L692.26,481.55 L692.89,481.82 L693.51,482.11 L694.13,482.39 L694.75,482.69 L695.36,482.98 L695.96,483.28 L696.56,483.58 L697.16,483.89 L697.75,484.20 L698.33,484.52 L698.91,484.84 L699.48,485.16 L700.05,485.49 L700.61,485.82 L701.17,486.16 L701.72,486.50 L702.26,486.84 L702.80,487.19 L703.34,487.54 L703.86,487.90 L704.39,488.26 L704.91,488.62 L705.42,488.98 L705.93,489.35 L706.43,489.73 L706.92,490.10 L707.41,490.48 L707.90,490.86 L708.38,491.25 L708.85,491.64 L709.32,492.03 L709.79,492.43 L710.24,492.83 L710.70,493.23 L711.14,493.64 L711.59,494.05 L712.02,494.46 L712.45,494.88 L712.88,495.29 L713.30,495.72 L713.71,496.14 L714.12,496.57 L714.53,497.00 L714.92,497.43 L715.32,497.87 L715.71,498.30 L716.09,498.75 L716.46,499.19 L716.84,499.64 L717.20,500.08 L717.56,500.54 L717.92,500.99 L718.27,501.45 L718.61,501.91 L718.95,502.37 L719.28,502.83 L719.61,503.30 L719.94,503.77 L720.25,504.24 L720.57,504.71 L720.87,505.19 L721.17,505.66 L721.47,506.14 L721.76,506.63 L722.05,507.11 L722.33,507.60 L722.60,508.08 L722.87,508.57 L723.13,509.07 L723.39,509.56 L723.64,510.05 L723.89,510.55 L724.13,511.05 L724.37,511.55 L724.60,512.05 L724.83,512.56 L725.05,513.06 L725.27,513.57 L725.48,514.08 L725.68,514.59 L725.88,515.10 L726.07,515.61 L726.26,516.13 L726.45,516.64 L726.63,517.16 L726.80,517.68 L726.97,518.20 L727.13,518.72 L727.28,519.24 L727.44,519.76 L727.58,520.29 L727.72,520.81 L727.86,521.34 L727.99,521.87 L728.11,522.39 L728.23,522.92 L728.35,523.45 L728.46,523.98 L728.56,524.51 L728.66,525.05 L728.75,525.58 L728.84,526.11 L728.92,526.64 L729.00,527.18 L729.07,527.71 L729.14,528.25 L729.20,528.79 L729.25,529.32 L729.30,529.86 L729.35,530.40 L729.39,530.93 L729.42,531.47 L729.45,532.01 L729.48,532.55 L729.50,533.08 L729.51,533.62 L729.52,534.16 L729.52,534.70" fill="none" stroke="#000" stroke-width="1.7" stroke-dasharray="9.5 9.2" stroke-dashoffset="4.7"/>
<path d="M522.57,534.70 L523.67,535.72 L524.76,536.72 L525.85,537.71 L526.95,538.69 L528.04,539.67 L529.13,540.63 L530.23,541.59 L531.32,542.53 L532.42,543.47 L533.51,544.40 L534.60,545.31 L535.70,546.22 L536.79,547.12 L537.88,548.01 L538.97,548.89 L540.07,549.77 L541.16,550.63 L542.25,551.48 L543.34,552.33 L544.43,553.17 L545.52,553.99 L546.61,554.81 L547.70,555.62 L548.79,556.42 L549.88,557.21 L550.97,557.99 L552.05,558.77 L553.14,559.53 L554.23,560.29 L555.31,561.04 L556.39,561.77 L557.48,562.50 L558.56,563.22 L559.64,563.94 L560.72,564.64 L561.80,565.34 L562.88,566.02 L563.95,566.70 L565.03,567.37 L566.10,568.03 L567.18,568.68 L568.25,569.32 L569.32,569.96 L570.39,570.58 L571.46,571.20 L572.53,571.81 L573.59,572.41 L574.66,573.00 L575.72,573.59 L576.78,574.16 L577.84,574.73 L578.90,575.29 L579.96,575.84 L581.02,576.38 L582.07,576.92 L583.12,577.44 L584.17,577.96 L585.22,578.47 L586.27,578.97 L587.31,579.47 L588.36,579.95 L589.40,580.43 L590.44,580.90 L591.48,581.36 L592.51,581.81 L593.55,582.26 L594.58,582.70 L595.61,583.13 L596.64,583.55 L597.66,583.96 L598.69,584.37 L599.71,584.77 L600.73,585.16 L601.74,585.54 L602.76,585.91 L603.77,586.28 L604.78,586.64 L605.79,586.99 L606.80,587.34 L607.80,587.67 L608.80,588.00 L609.80,588.33 L610.80,588.64 L611.79,588.95 L612.78,589.25 L613.77,589.54 L614.75,589.82 L615.74,590.10 L616.72,590.37 L617.70,590.63 L618.67,590.89 L619.64,591.14 L620.61,591.38 L621.58,591.61 L622.54,591.84 L623.51,592.06 L624.46,592.27 L625.42,592.47 L626.37,592.67 L627.32,592.86 L628.27,593.05 L629.21,593.22 L630.15,593.39 L631.09,593.56 L632.03,593.71 L632.96,593.86 L633.89,594.01 L634.81,594.14 L635.73,594.27 L636.65,594.40 L637.57,594.51 L638.48,594.62 L639.39,594.72 L640.30,594.82 L641.20,594.91 L642.10,594.99 L642.99,595.07 L643.89,595.14 L644.77,595.20 L645.66,595.26 L646.54,595.31 L647.42,595.35 L648.29,595.39 L649.17,595.42 L650.03,595.45 L650.90,595.47 L651.76,595.48 L652.62,595.49 L653.47,595.49 L654.32,595.48 L655.16,595.47 L656.01,595.45 L656.85,595.43 L657.68,595.40 L658.51,595.36 L659.34,595.32 L660.16,595.27 L660.98,595.22 L661.80,595.16 L662.61,595.10 L663.42,595.03 L664.22,594.95 L665.02,594.87 L665.81,594.78 L666.61,594.69 L667.39,594.59 L668.18,594.48 L668.96,594.37 L669.73,594.26 L670.50,594.14 L671.27,594.01 L672.03,593.88 L672.79,593.74 L673.55,593.60 L674.30,593.45 L675.04,593.30 L675.78,593.14 L676.52,592.97 L677.25,592.81 L677.98,592.63 L678.71,592.45 L679.43,592.27 L680.14,592.08 L680.86,591.89 L681.56,591.69 L682.27,591.48 L682.96,591.27 L683.66,591.06 L684.35,590.84 L685.03,590.62 L685.71,590.39 L686.39,590.16 L687.06,589.92 L687.72,589.68 L688.39,589.43 L689.04,589.18 L689.70,588.92 L690.34,588.66 L690.99,588.40 L691.63,588.13 L692.26,587.85 L692.89,587.58 L693.51,587.29 L694.13,587.01 L694.75,586.71 L695.36,586.42 L695.96,586.12 L696.56,585.82 L697.16,585.51 L697.75,585.20 L698.33,584.88 L698.91,584.56 L699.48,584.24 L700.05,583.91 L700.61,583.58 L701.17,583.24 L701.72,582.90 L702.26,582.56 L702.80,582.21 L703.34,581.86 L703.86,581.50 L704.39,581.14 L704.91,580.78 L705.42,580.42 L705.93,580.05 L706.43,579.67 L706.92,579.30 L707.41,578.92 L707.90,578.54 L708.38,578.15 L708.85,577.76 L709.32,577.37 L709.79,576.97 L710.24,576.57 L710.70,576.17 L711.14,575.76 L711.59,575.35 L712.02,574.94 L712.45,574.52 L712.88,574.11 L713.30,573.68 L713.71,573.26 L714.12,572.83 L714.53,572.40 L714.92,571.97 L715.32,571.53 L715.71,571.10 L716.09,570.65 L716.46,570.21 L716.84,569.76 L717.20,569.32 L717.56,568.86 L717.92,568.41 L718.27,567.95 L718.61,567.49 L718.95,567.03 L719.28,566.57 L719.61,566.10 L719.94,565.63 L720.25,565.16 L720.57,564.69 L720.87,564.21 L721.17,563.74 L721.47,563.26 L721.76,562.77 L722.05,562.29 L722.33,561.80 L722.60,561.32 L722.87,560.83 L723.13,560.33 L723.39,559.84 L723.64,559.35 L723.89,558.85 L724.13,558.35 L724.37,557.85 L724.60,557.35 L724.83,556.84 L725.05,556.34 L725.27,555.83 L725.48,555.32 L725.68,554.81 L725.88,554.30 L726.07,553.79 L726.26,553.27 L726.45,552.76 L726.63,552.24 L726.80,551.72 L726.97,551.20 L727.13,550.68 L727.28,550.16 L727.44,549.64 L727.58,549.11 L727.72,548.59 L727.86,548.06 L727.99,547.53 L728.11,547.01 L728.23,546.48 L728.35,545.95 L728.46,545.42 L728.56,544.89 L728.66,544.35 L728.75,543.82 L728.84,543.29 L728.92,542.76 L729.00,542.22 L729.07,541.69 L729.14,541.15 L729.20,540.61 L729.25,540.08 L729.30,539.54 L729.35,539.00 L729.39,538.47 L729.42,537.93 L729.45,537.39 L729.48,536.85 L729.50,536.32 L729.51,535.78 L729.52,535.24 L729.52,534.70" fill="none" stroke="#000" stroke-width="1.7" stroke-dasharray="9.5 9.2" stroke-dashoffset="4.7"/>
<path d="M477.44,534.70 L478.90,533.57 L480.36,532.45 L481.81,531.34 L483.27,530.24 L484.72,529.15 L486.17,528.08 L487.62,527.01 L489.07,525.96 L490.52,524.91 L491.96,523.88 L493.40,522.86 L494.84,521.84 L496.28,520.84 L497.71,519.85 L499.15,518.87 L500.58,517.90 L502.00,516.94 L503.43,515.99 L504.85,515.05 L506.28,514.12 L507.69,513.20 L509.11,512.29 L510.52,511.39 L511.94,510.50 L513.34,509.63 L514.75,508.76 L516.16,507.90 L517.56,507.05 L518.96,506.22 L520.35,505.39 L521.74,504.57 L523.14,503.76 L524.52,502.97 L525.91,502.18 L527.29,501.40 L528.67,500.63 L530.05,499.88 L531.42,499.13 L532.79,498.39 L534.16,497.66 L535.52,496.94 L536.89,496.23 L538.25,495.53 L539.60,494.84 L540.95,494.16 L542.30,493.49 L543.65,492.83 L545.00,492.18 L546.34,491.54 L547.67,490.90 L549.01,490.28 L550.34,489.66 L551.67,489.06 L552.99,488.46 L554.31,487.88 L555.63,487.30 L556.94,486.73 L558.25,486.17 L559.56,485.62 L560.87,485.08 L562.17,484.55 L563.46,484.03 L564.76,483.52 L566.05,483.01 L567.33,482.52 L568.62,482.03 L569.90,481.55 L571.17,481.08 L572.44,480.62 L573.71,480.17 L574.98,479.73 L576.24,479.29 L577.49,478.87 L578.75,478.45 L580.00,478.04 L581.24,477.64 L582.48,477.25 L583.72,476.87 L584.96,476.50 L586.19,476.13 L587.41,475.77 L588.63,475.43 L589.85,475.08 L591.07,474.75 L592.28,474.43 L593.48,474.11 L594.69,473.81 L595.88,473.51 L597.08,473.22 L598.27,472.93 L599.45,472.66 L600.63,472.39 L601.81,472.13 L602.98,471.88 L604.15,471.64 L605.32,471.40 L606.48,471.17 L607.63,470.96 L608.78,470.74 L609.93,470.54 L611.07,470.34 L612.21,470.15 L613.35,469.97 L614.48,469.80 L615.60,469.63 L616.72,469.48 L617.84,469.33 L618.95,469.18 L620.06,469.05 L621.16,468.92 L622.26,468.80 L623.35,468.68 L624.44,468.58 L625.52,468.48 L626.60,468.39 L627.68,468.30 L628.75,468.22 L629.81,468.15 L630.87,468.09 L631.93,468.03 L632.98,467.98 L634.02,467.94 L635.07,467.91 L636.10,467.88 L637.13,467.86 L638.16,467.84 L639.18,467.83 L640.20,467.83 L641.21,467.84 L642.22,467.85 L643.22,467.87 L644.22,467.89 L645.21,467.93 L646.20,467.96 L647.18,468.01 L648.16,468.06 L649.13,468.12 L650.10,468.18 L651.06,468.25 L652.02,468.33 L652.97,468.41 L653.91,468.50 L654.85,468.60 L655.79,468.70 L656.72,468.81 L657.65,468.92 L658.57,469.04 L659.48,469.17 L660.39,469.30 L661.30,469.44 L662.20,469.58 L663.09,469.73 L663.98,469.89 L664.87,470.05 L665.74,470.22 L666.62,470.39 L667.48,470.57 L668.35,470.75 L669.20,470.94 L670.05,471.14 L670.90,471.34 L671.74,471.55 L672.58,471.76 L673.40,471.98 L674.23,472.20 L675.05,472.43 L675.86,472.66 L676.67,472.90 L677.47,473.14 L678.27,473.39 L679.06,473.65 L679.84,473.91 L680.62,474.17 L681.40,474.44 L682.16,474.71 L682.93,474.99 L683.68,475.28 L684.43,475.57 L685.18,475.86 L685.92,476.16 L686.65,476.46 L687.38,476.77 L688.11,477.09 L688.82,477.40 L689.53,477.73 L690.24,478.05 L690.94,478.38 L691.63,478.72 L692.32,479.06 L693.00,479.40 L693.68,479.75 L694.35,480.11 L695.02,480.47 L695.67,480.83 L696.33,481.19 L696.97,481.56 L697.61,481.94 L698.25,482.32 L698.87,482.70 L699.49,483.09 L700.10,483.48 L700.71,483.87 L701.31,484.27 L701.90,484.67 L702.49,485.08 L703.07,485.49 L703.64,485.91 L704.21,486.32 L704.77,486.74 L705.33,487.17 L705.87,487.60 L706.41,488.03 L706.95,488.47 L707.48,488.91 L708.00,489.35 L708.51,489.79 L709.02,490.24 L709.52,490.70 L710.02,491.15 L710.51,491.61 L710.99,492.07 L711.47,492.54 L711.94,493.01 L712.40,493.48 L712.86,493.96 L713.31,494.43 L713.76,494.91 L714.20,495.40 L714.63,495.88 L715.05,496.37 L715.47,496.87 L715.89,497.36 L716.29,497.86 L716.69,498.36 L717.09,498.86 L717.48,499.37 L717.86,499.88 L718.23,500.39 L718.60,500.90 L718.97,501.42 L719.32,501.93 L719.67,502.45 L720.02,502.98 L720.36,503.50 L720.69,504.03 L721.01,504.56 L721.33,505.09 L721.65,505.62 L721.95,506.16 L722.25,506.70 L722.55,507.24 L722.84,507.78 L723.12,508.32 L723.40,508.87 L723.67,509.42 L723.93,509.96 L724.19,510.52 L724.44,511.07 L724.68,511.62 L724.92,512.18 L725.16,512.74 L725.38,513.30 L725.61,513.86 L725.82,514.42 L726.03,514.98 L726.23,515.55 L726.43,516.11 L726.62,516.68 L726.80,517.25 L726.98,517.82 L727.15,518.39 L727.32,518.96 L727.48,519.54 L727.63,520.11 L727.78,520.69 L727.92,521.26 L728.06,521.84 L728.19,522.42 L728.31,523.00 L728.43,523.58 L728.54,524.16 L728.65,524.74 L728.75,525.32 L728.84,525.91 L728.93,526.49 L729.01,527.07 L729.09,527.66 L729.15,528.24 L729.22,528.83 L729.28,529.41 L729.33,530.00 L729.37,530.59 L729.41,531.17 L729.44,531.76 L729.47,532.35 L729.49,532.94 L729.51,533.52 L729.52,534.11 L729.52,534.70 L729.52,535.29 L729.51,535.88 L729.49,536.46 L729.47,537.05 L729.44,537.64 L729.41,538.23 L729.37,538.81 L729.33,539.40 L729.28,539.99 L729.22,540.57 L729.15,541.16 L729.09,541.74 L729.01,542.33 L728.93,542.91 L728.84,543.49 L728.75,544.08 L728.65,544.66 L728.54,545.24 L728.43,545.82 L728.31,546.40 L728.19,546.98 L728.06,547.56 L727.92,548.14 L727.78,548.71 L727.63,549.29 L727.48,549.86 L727.32,550.44 L727.15,551.01 L726.98,551.58 L726.80,552.15 L726.62,552.72 L726.43,553.29 L726.23,553.85 L726.03,554.42 L725.82,554.98 L725.61,555.54 L725.38,556.10 L725.16,556.66 L724.92,557.22 L724.68,557.78 L724.44,558.33 L724.19,558.88 L723.93,559.44 L723.67,559.98 L723.40,560.53 L723.12,561.08 L722.84,561.62 L722.55,562.16 L722.25,562.70 L721.95,563.24 L721.65,563.78 L721.33,564.31 L721.01,564.84 L720.69,565.37 L720.36,565.90 L720.02,566.42 L719.67,566.95 L719.32,567.47 L718.97,567.98 L718.60,568.50 L718.23,569.01 L717.86,569.52 L717.48,570.03 L717.09,570.54 L716.69,571.04 L716.29,571.54 L715.89,572.04 L715.47,572.53 L715.05,573.03 L714.63,573.52 L714.20,574.00 L713.76,574.49 L713.31,574.97 L712.86,575.44 L712.40,575.92 L711.94,576.39 L711.47,576.86 L710.99,577.33 L710.51,577.79 L710.02,578.25 L709.52,578.70 L709.02,579.16 L708.51,579.61 L708.00,580.05 L707.48,580.49 L706.95,580.93 L706.41,581.37 L705.87,581.80 L705.33,582.23 L704.77,582.66 L704.21,583.08 L703.64,583.49 L703.07,583.91 L702.49,584.32 L701.90,584.73 L701.31,585.13 L700.71,585.53 L700.10,585.92 L699.49,586.31 L698.87,586.70 L698.25,587.08 L697.61,587.46 L696.97,587.84 L696.33,588.21 L695.67,588.57 L695.02,588.93 L694.35,589.29 L693.68,589.65 L693.00,590.00 L692.32,590.34 L691.63,590.68 L690.94,591.02 L690.24,591.35 L689.53,591.67 L688.82,592.00 L688.11,592.31 L687.38,592.63 L686.65,592.94 L685.92,593.24 L685.18,593.54 L684.43,593.83 L683.68,594.12 L682.93,594.41 L682.16,594.69 L681.40,594.96 L680.62,595.23 L679.84,595.49 L679.06,595.75 L678.27,596.01 L677.47,596.26 L676.67,596.50 L675.86,596.74 L675.05,596.97 L674.23,597.20 L673.40,597.42 L672.58,597.64 L671.74,597.85 L670.90,598.06 L670.05,598.26 L669.20,598.46 L668.35,598.65 L667.48,598.83 L666.62,599.01 L665.74,599.18 L664.87,599.35 L663.98,599.51 L663.09,599.67 L662.20,599.82 L661.30,599.96 L660.39,600.10 L659.48,600.23 L658.57,600.36 L657.65,600.48 L656.72,600.59 L655.79,600.70 L654.85,600.80 L653.91,600.90 L652.97,600.99 L652.02,601.07 L651.06,601.15 L650.10,601.22 L649.13,601.28 L648.16,601.34 L647.18,601.39 L646.20,601.44 L645.21,601.47 L644.22,601.51 L643.22,601.53 L642.22,601.55 L641.21,601.56 L640.20,601.57 L639.18,601.57 L638.16,601.56 L637.13,601.54 L636.10,601.52 L635.07,601.49 L634.02,601.46 L632.98,601.42 L631.93,601.37 L630.87,601.31 L629.81,601.25 L628.75,601.18 L627.68,601.10 L626.60,601.01 L625.52,600.92 L624.44,600.82 L623.35,600.72 L622.26,600.60 L621.16,600.48 L620.06,600.35 L618.95,600.22 L617.84,600.07 L616.72,599.92 L615.60,599.77 L614.48,599.60 L613.35,599.43 L612.21,599.25 L611.07,599.06 L609.93,598.86 L608.78,598.66 L607.63,598.44 L606.48,598.23 L605.32,598.00 L604.15,597.76 L602.98,597.52 L601.81,597.27 L600.63,597.01 L599.45,596.74 L598.27,596.47 L597.08,596.18 L595.88,595.89 L594.69,595.59 L593.48,595.29 L592.28,594.97 L591.07,594.65 L589.85,594.32 L588.63,593.97 L587.41,593.63 L586.19,593.27 L584.96,592.90 L583.72,592.53 L582.48,592.15 L581.24,591.76 L580.00,591.36 L578.75,590.95 L577.49,590.53 L576.24,590.11 L574.98,589.67 L573.71,589.23 L572.44,588.78 L571.17,588.32 L569.90,587.85 L568.62,587.37 L567.33,586.88 L566.05,586.39 L564.76,585.88 L563.46,585.37 L562.17,584.85 L560.87,584.32 L559.56,583.78 L558.25,583.23 L556.94,582.67 L555.63,582.10 L554.31,581.52 L552.99,580.94 L551.67,580.34 L550.34,579.74 L549.01,579.12 L547.67,578.50 L546.34,577.86 L545.00,577.22 L543.65,576.57 L542.30,575.91 L540.95,575.24 L539.60,574.56 L538.25,573.87 L536.89,573.17 L535.52,572.46 L534.16,571.74 L532.79,571.01 L531.42,570.27 L530.05,569.52 L528.67,568.77 L527.29,568.00 L525.91,567.22 L524.52,566.43 L523.14,565.64 L521.74,564.83 L520.35,564.01 L518.96,563.18 L517.56,562.35 L516.16,561.50 L514.75,560.64 L513.34,559.77 L511.94,558.90 L510.52,558.01 L509.11,557.11 L507.69,556.20 L506.28,555.28 L504.85,554.35 L503.43,553.41 L502.00,552.46 L500.58,551.50 L499.15,550.53 L497.71,549.55 L496.28,548.56 L494.84,547.56 L493.40,546.54 L491.96,545.52 L490.52,544.49 L489.07,543.44 L487.62,542.39 L486.17,541.32 L484.72,540.25 L483.27,539.16 L481.81,538.06 L480.36,536.95 L478.90,535.83 L477.44,534.70Z" fill="none" stroke="#000" stroke-width="1.85" stroke-linejoin="bevel"/>
<path d="M545.52,534.70 L546.44,533.75 L547.37,532.81 L548.29,531.88 L549.22,530.96 L550.14,530.04 L551.07,529.14 L552.00,528.24 L552.93,527.35 L553.86,526.48 L554.79,525.60 L555.72,524.74 L556.65,523.89 L557.58,523.04 L558.51,522.21 L559.45,521.38 L560.38,520.56 L561.32,519.75 L562.25,518.94 L563.18,518.15 L564.12,517.36 L565.05,516.58 L565.99,515.82 L566.93,515.05 L567.86,514.30 L568.80,513.56 L569.73,512.82 L570.67,512.09 L571.61,511.37 L572.54,510.66 L573.48,509.96 L574.41,509.26 L575.35,508.58 L576.29,507.90 L577.22,507.23 L578.16,506.56 L579.09,505.91 L580.03,505.26 L580.96,504.62 L581.89,503.99 L582.83,503.37 L583.76,502.76 L584.69,502.15 L585.63,501.55 L586.56,500.96 L587.49,500.38 L588.42,499.81 L589.35,499.24 L590.28,498.68 L591.20,498.13 L592.13,497.59 L593.06,497.05 L593.98,496.52 L594.91,496.00 L595.83,495.49 L596.76,494.99 L597.68,494.49 L598.60,494.00 L599.52,493.52 L600.44,493.04 L601.36,492.58 L602.27,492.12 L603.19,491.67 L604.10,491.22 L605.02,490.79 L605.93,490.36 L606.84,489.94 L607.75,489.52 L608.65,489.12 L609.56,488.72 L610.47,488.33 L611.37,487.94 L612.27,487.57 L613.17,487.20 L614.07,486.83 L614.97,486.48 L615.87,486.13 L616.76,485.79 L617.65,485.46 L618.54,485.13 L619.43,484.81 L620.32,484.50 L621.21,484.19 L622.09,483.90 L622.97,483.60 L623.85,483.32 L624.73,483.04 L625.61,482.77 L626.48,482.51 L627.35,482.25 L628.22,482.00 L629.09,481.76 L629.96,481.53 L630.82,481.30 L631.68,481.07 L632.54,480.86 L633.40,480.65 L634.25,480.45 L635.11,480.25 L635.96,480.06 L636.80,479.88 L637.65,479.71 L638.49,479.54 L639.34,479.38 L640.17,479.22 L641.01,479.07 L641.84,478.93 L642.68,478.79 L643.50,478.66 L644.33,478.54 L645.15,478.42 L645.97,478.31 L646.79,478.20 L647.61,478.10 L648.42,478.01 L649.23,477.93 L650.04,477.85 L650.84,477.77 L651.64,477.70 L652.44,477.64 L653.24,477.59 L654.03,477.54 L654.82,477.49 L655.61,477.46 L656.39,477.42 L657.18,477.40 L657.95,477.38 L658.73,477.37 L659.50,477.36 L660.27,477.36 L661.04,477.36 L661.80,477.37 L662.56,477.38 L663.32,477.40 L664.07,477.43 L664.82,477.46 L665.57,477.50 L666.31,477.54 L667.05,477.59 L667.79,477.65 L668.52,477.71 L669.25,477.77 L669.98,477.84 L670.70,477.92 L671.42,478.00 L672.14,478.08 L672.85,478.18 L673.56,478.27 L674.27,478.38 L674.97,478.48 L675.67,478.60 L676.36,478.71 L677.06,478.84 L677.74,478.97 L678.43,479.10 L679.11,479.24 L679.79,479.38 L680.46,479.53 L681.13,479.68 L681.80,479.84 L682.46,480.00 L683.12,480.17 L683.77,480.34 L684.42,480.52 L685.07,480.70 L685.71,480.89 L686.35,481.08 L686.98,481.28 L687.62,481.48 L688.24,481.68 L688.87,481.89 L689.48,482.11 L690.10,482.33 L690.71,482.55 L691.32,482.78 L691.92,483.01 L692.52,483.25 L693.11,483.49 L693.71,483.73 L694.29,483.98 L694.87,484.23 L695.45,484.49 L696.03,484.75 L696.60,485.02 L697.16,485.29 L697.72,485.56 L698.27,485.84 L698.82,486.12 L699.37,486.41 L699.91,486.70 L700.44,486.99 L700.97,487.29 L701.50,487.59 L702.02,487.90 L702.54,488.21 L703.05,488.52 L703.55,488.84 L704.05,489.16 L704.55,489.48 L705.04,489.81 L705.53,490.14 L706.01,490.47 L706.49,490.81 L706.96,491.15 L707.43,491.50 L707.89,491.85 L708.35,492.20 L708.80,492.55 L709.25,492.91 L709.69,493.27 L710.13,493.64 L710.56,494.01 L710.99,494.38 L711.42,494.75 L711.83,495.13 L712.25,495.51 L712.66,495.89 L713.06,496.28 L713.46,496.67 L713.85,497.06 L714.24,497.45 L714.63,497.85 L715.01,498.25 L715.38,498.66 L715.75,499.06 L716.12,499.47 L716.48,499.88 L716.83,500.30 L717.18,500.71 L717.53,501.13 L717.87,501.55 L718.20,501.98 L718.53,502.40 L718.86,502.83 L719.18,503.27 L719.49,503.70 L719.80,504.14 L720.11,504.57 L720.41,505.01 L720.71,505.46 L721.00,505.90 L721.29,506.35 L721.57,506.80 L721.84,507.25 L722.12,507.70 L722.38,508.16 L722.64,508.62 L722.90,509.07 L723.15,509.54 L723.40,510.00 L723.64,510.46 L723.88,510.93 L724.11,511.40 L724.34,511.87 L724.56,512.34 L724.78,512.81 L724.99,513.29 L725.20,513.76 L725.41,514.24 L725.60,514.72 L725.80,515.20 L725.99,515.68 L726.17,516.17 L726.35,516.65 L726.52,517.14 L726.69,517.63 L726.85,518.12 L727.01,518.61 L727.17,519.10 L727.32,519.59 L727.46,520.08 L727.60,520.58 L727.74,521.07 L727.87,521.57 L727.99,522.07 L728.11,522.56 L728.23,523.06 L728.34,523.56 L728.44,524.06 L728.54,524.57 L728.64,525.07 L728.73,525.57 L728.81,526.07 L728.89,526.58 L728.97,527.08 L729.04,527.59 L729.11,528.09 L729.17,528.60 L729.22,529.11 L729.27,529.61 L729.32,530.12 L729.36,530.63 L729.40,531.14 L729.43,531.65 L729.46,532.15 L729.48,532.66 L729.50,533.17 L729.51,533.68 L729.52,534.19 L729.52,534.70 L729.52,535.21 L729.51,535.72 L729.50,536.23 L729.48,536.74 L729.46,537.25 L729.43,537.75 L729.40,538.26 L729.36,538.77 L729.32,539.28 L729.27,539.79 L729.22,540.29 L729.17,540.80 L729.11,541.31 L729.04,541.81 L728.97,542.32 L728.89,542.82 L728.81,543.33 L728.73,543.83 L728.64,544.33 L728.54,544.83 L728.44,545.34 L728.34,545.84 L728.23,546.34 L728.11,546.84 L727.99,547.33 L727.87,547.83 L727.74,548.33 L727.60,548.82 L727.46,549.32 L727.32,549.81 L727.17,550.30 L727.01,550.79 L726.85,551.28 L726.69,551.77 L726.52,552.26 L726.35,552.75 L726.17,553.23 L725.99,553.72 L725.80,554.20 L725.60,554.68 L725.41,555.16 L725.20,555.64 L724.99,556.11 L724.78,556.59 L724.56,557.06 L724.34,557.53 L724.11,558.00 L723.88,558.47 L723.64,558.94 L723.40,559.40 L723.15,559.86 L722.90,560.33 L722.64,560.78 L722.38,561.24 L722.12,561.70 L721.84,562.15 L721.57,562.60 L721.29,563.05 L721.00,563.50 L720.71,563.94 L720.41,564.39 L720.11,564.83 L719.80,565.26 L719.49,565.70 L719.18,566.13 L718.86,566.57 L718.53,567.00 L718.20,567.42 L717.87,567.85 L717.53,568.27 L717.18,568.69 L716.83,569.10 L716.48,569.52 L716.12,569.93 L715.75,570.34 L715.38,570.74 L715.01,571.15 L714.63,571.55 L714.24,571.95 L713.85,572.34 L713.46,572.73 L713.06,573.12 L712.66,573.51 L712.25,573.89 L711.83,574.27 L711.42,574.65 L710.99,575.02 L710.56,575.39 L710.13,575.76 L709.69,576.13 L709.25,576.49 L708.80,576.85 L708.35,577.20 L707.89,577.55 L707.43,577.90 L706.96,578.25 L706.49,578.59 L706.01,578.93 L705.53,579.26 L705.04,579.59 L704.55,579.92 L704.05,580.24 L703.55,580.56 L703.05,580.88 L702.54,581.19 L702.02,581.50 L701.50,581.81 L700.97,582.11 L700.44,582.41 L699.91,582.70 L699.37,582.99 L698.82,583.28 L698.27,583.56 L697.72,583.84 L697.16,584.11 L696.60,584.38 L696.03,584.65 L695.45,584.91 L694.87,585.17 L694.29,585.42 L693.71,585.67 L693.11,585.91 L692.52,586.15 L691.92,586.39 L691.32,586.62 L690.71,586.85 L690.10,587.07 L689.48,587.29 L688.87,587.51 L688.24,587.72 L687.62,587.92 L686.98,588.12 L686.35,588.32 L685.71,588.51 L685.07,588.70 L684.42,588.88 L683.77,589.06 L683.12,589.23 L682.46,589.40 L681.80,589.56 L681.13,589.72 L680.46,589.87 L679.79,590.02 L679.11,590.16 L678.43,590.30 L677.74,590.43 L677.06,590.56 L676.36,590.69 L675.67,590.80 L674.97,590.92 L674.27,591.02 L673.56,591.13 L672.85,591.22 L672.14,591.32 L671.42,591.40 L670.70,591.48 L669.98,591.56 L669.25,591.63 L668.52,591.69 L667.79,591.75 L667.05,591.81 L666.31,591.86 L665.57,591.90 L664.82,591.94 L664.07,591.97 L663.32,592.00 L662.56,592.02 L661.80,592.03 L661.04,592.04 L660.27,592.04 L659.50,592.04 L658.73,592.03 L657.95,592.02 L657.18,592.00 L656.39,591.98 L655.61,591.94 L654.82,591.91 L654.03,591.86 L653.24,591.81 L652.44,591.76 L651.64,591.70 L650.84,591.63 L650.04,591.55 L649.23,591.47 L648.42,591.39 L647.61,591.30 L646.79,591.20 L645.97,591.09 L645.15,590.98 L644.33,590.86 L643.50,590.74 L642.68,590.61 L641.84,590.47 L641.01,590.33 L640.17,590.18 L639.34,590.02 L638.49,589.86 L637.65,589.69 L636.80,589.52 L635.96,589.34 L635.11,589.15 L634.25,588.95 L633.40,588.75 L632.54,588.54 L631.68,588.33 L630.82,588.10 L629.96,587.87 L629.09,587.64 L628.22,587.40 L627.35,587.15 L626.48,586.89 L625.61,586.63 L624.73,586.36 L623.85,586.08 L622.97,585.80 L622.09,585.50 L621.21,585.21 L620.32,584.90 L619.43,584.59 L618.54,584.27 L617.65,583.94 L616.76,583.61 L615.87,583.27 L614.97,582.92 L614.07,582.57 L613.17,582.20 L612.27,581.83 L611.37,581.46 L610.47,581.07 L609.56,580.68 L608.65,580.28 L607.75,579.88 L606.84,579.46 L605.93,579.04 L605.02,578.61 L604.10,578.18 L603.19,577.73 L602.27,577.28 L601.36,576.82 L600.44,576.36 L599.52,575.88 L598.60,575.40 L597.68,574.91 L596.76,574.41 L595.83,573.91 L594.91,573.40 L593.98,572.88 L593.06,572.35 L592.13,571.81 L591.20,571.27 L590.28,570.72 L589.35,570.16 L588.42,569.59 L587.49,569.02 L586.56,568.44 L585.63,567.85 L584.69,567.25 L583.76,566.64 L582.83,566.03 L581.89,565.41 L580.96,564.78 L580.03,564.14 L579.09,563.49 L578.16,562.84 L577.22,562.17 L576.29,561.50 L575.35,560.82 L574.41,560.14 L573.48,559.44 L572.54,558.74 L571.61,558.03 L570.67,557.31 L569.73,556.58 L568.80,555.84 L567.86,555.10 L566.93,554.35 L565.99,553.58 L565.05,552.82 L564.12,552.04 L563.18,551.25 L562.25,550.46 L561.32,549.65 L560.38,548.84 L559.45,548.02 L558.51,547.19 L557.58,546.36 L556.65,545.51 L555.72,544.66 L554.79,543.80 L553.86,542.92 L552.93,542.05 L552.00,541.16 L551.07,540.26 L550.14,539.36 L549.22,538.44 L548.29,537.52 L547.37,536.59 L546.44,535.65 L545.52,534.70Z" fill="none" stroke="#000" stroke-width="1.85" stroke-linejoin="bevel"/>
</g>
<rect x="467.7" y="383.6" width="298.00" height="302.20" fill="none" stroke="#2a2a2a" stroke-width="0.75"/>
<path d="M485.23,685.8v-5.6M485.23,383.6v5.6M555.35,685.8v-5.6M555.35,383.6v5.6M625.46,685.8v-5.6M625.46,383.6v5.6M695.58,685.8v-5.6M695.58,383.6v5.6M765.70,685.8v-5.6M765.70,383.6v5.6M467.70,685.8v-2.8M467.70,383.6v2.8M502.76,685.8v-2.8M502.76,383.6v2.8M520.29,685.8v-2.8M520.29,383.6v2.8M537.82,685.8v-2.8M537.82,383.6v2.8M572.88,685.8v-2.8M572.88,383.6v2.8M590.41,685.8v-2.8M590.41,383.6v2.8M607.94,685.8v-2.8M607.94,383.6v2.8M642.99,685.8v-2.8M642.99,383.6v2.8M660.52,685.8v-2.8M660.52,383.6v2.8M678.05,685.8v-2.8M678.05,383.6v2.8M713.11,685.8v-2.8M713.11,383.6v2.8M730.64,685.8v-2.8M730.64,383.6v2.8M748.17,685.8v-2.8M748.17,383.6v2.8M467.7,676.91h5.6M765.7,676.91h-5.6M467.7,605.81h5.6M765.7,605.81h-5.6M467.7,534.70h5.6M765.7,534.70h-5.6M467.7,463.59h5.6M765.7,463.59h-5.6M467.7,392.49h5.6M765.7,392.49h-5.6M467.7,659.14h2.8M765.7,659.14h-2.8M467.7,641.36h2.8M765.7,641.36h-2.8M467.7,623.58h2.8M765.7,623.58h-2.8M467.7,588.03h2.8M765.7,588.03h-2.8M467.7,570.25h2.8M765.7,570.25h-2.8M467.7,552.48h2.8M765.7,552.48h-2.8M467.7,516.92h2.8M765.7,516.92h-2.8M467.7,499.15h2.8M765.7,499.15h-2.8M467.7,481.37h2.8M765.7,481.37h-2.8M467.7,445.82h2.8M765.7,445.82h-2.8M467.7,428.04h2.8M765.7,428.04h-2.8M467.7,410.26h2.8M765.7,410.26h-2.8" fill="none" stroke="#2a2a2a" stroke-width="0.65"/>
</g>
<g font-family="'Liberation Sans', sans-serif" fill="#000" opacity="0.999" text-rendering="geometricPrecision">
<text x="7.90" y="20.20" font-size="18.30" text-anchor="start" font-weight="bold">A</text>
<text x="406.00" y="20.20" font-size="18.30" text-anchor="start" font-weight="bold">B</text>
<text x="8.30" y="371.50" font-size="18.30" text-anchor="start" font-weight="bold">C</text>
<text x="406.00" y="371.30" font-size="18.30" text-anchor="start" font-weight="bold">D</text>
<text x="69.64" y="21.90" font-size="23.40" text-anchor="end" font-weight="normal">15</text>
<text x="69.64" y="87.95" font-size="23.40" text-anchor="end" font-weight="normal">10</text>
<text x="69.64" y="160.05" font-size="23.40" text-anchor="end" font-weight="normal">5</text>
<text x="69.64" y="231.95" font-size="23.40" text-anchor="end" font-weight="normal">0</text>
<text x="69.64" y="295.95" font-size="23.40" text-anchor="end" font-weight="normal">-5</text>
<text x="75.30" y="325.30" font-size="23.40" text-anchor="middle" font-weight="normal">-15</text>
<text x="147.75" y="325.30" font-size="23.40" text-anchor="middle" font-weight="normal">-10</text>
<text x="220.20" y="325.30" font-size="23.40" text-anchor="middle" font-weight="normal">-5</text>
<text x="293.25" y="325.30" font-size="23.40" text-anchor="middle" font-weight="normal">0</text>
<text x="365.70" y="325.30" font-size="23.40" text-anchor="middle" font-weight="normal">5</text>
<text x="221.00" y="349.50" font-size="24.10" text-anchor="middle" font-weight="normal">Re(<tspan font-family="'Liberation Serif', serif" font-size="102%">λ</tspan>)</text>
<text x="24.40" y="151.70" font-size="24.10" text-anchor="middle" font-weight="normal" transform="rotate(-90 24.4 151.7)">Im(<tspan font-family="'Liberation Serif', serif" font-size="102%">λ</tspan>)</text>
<text x="459.44" y="23.75" font-size="23.40" text-anchor="end" font-weight="normal">4</text>
<text x="459.44" y="89.80" font-size="23.40" text-anchor="end" font-weight="normal">2</text>
<text x="459.44" y="160.95" font-size="23.40" text-anchor="end" font-weight="normal">0</text>
<text x="459.44" y="232.35" font-size="23.40" text-anchor="end" font-weight="normal">-2</text>
<text x="459.44" y="295.75" font-size="23.40" text-anchor="end" font-weight="normal">-4</text>
<text x="465.30" y="325.10" font-size="23.40" text-anchor="middle" font-weight="normal">-6</text>
<text x="537.33" y="325.10" font-size="23.40" text-anchor="middle" font-weight="normal">-4</text>
<text x="609.35" y="325.10" font-size="23.40" text-anchor="middle" font-weight="normal">-2</text>
<text x="681.88" y="325.10" font-size="23.40" text-anchor="middle" font-weight="normal">0</text>
<text x="753.90" y="325.10" font-size="23.40" text-anchor="middle" font-weight="normal">2</text>
<text x="610.40" y="349.50" font-size="24.10" text-anchor="middle" font-weight="normal">Re(<tspan font-family="'Liberation Serif', serif" font-size="102%">λ</tspan>)</text>
<text x="420.00" y="153.00" font-size="24.10" text-anchor="middle" font-weight="normal" transform="rotate(-90 420.0 153.0)">Im(<tspan font-family="'Liberation Serif', serif" font-size="102%">λ</tspan>)</text>
<text x="66.82" y="417.01" font-size="20.40" text-anchor="end" font-weight="normal">10</text>
<text x="66.82" y="479.60" font-size="20.40" text-anchor="end" font-weight="normal">5</text>
<text x="66.82" y="542.49" font-size="20.40" text-anchor="end" font-weight="normal">0</text>
<text x="66.82" y="605.69" font-size="20.40" text-anchor="end" font-weight="normal">-5</text>
<text x="66.82" y="668.28" font-size="20.40" text-anchor="end" font-weight="normal">-10</text>
<text x="71.85" y="711.50" font-size="20.40" text-anchor="middle" font-weight="normal">-20</text>
<text x="133.65" y="711.50" font-size="20.40" text-anchor="middle" font-weight="normal">-15</text>
<text x="195.45" y="711.50" font-size="20.40" text-anchor="middle" font-weight="normal">-10</text>
<text x="257.26" y="711.50" font-size="20.40" text-anchor="middle" font-weight="normal">-5</text>
<text x="319.36" y="711.50" font-size="20.40" text-anchor="middle" font-weight="normal">0</text>
<text x="220.10" y="733.00" font-size="21.01" text-anchor="middle" font-weight="normal">Re<tspan font-family="'Liberation Serif', serif" font-size="102%">λ</tspan></text>
<text x="20.80" y="534.60" font-size="21.01" text-anchor="middle" font-weight="normal" transform="rotate(-90 20.8 534.6)">Im<tspan font-family="'Liberation Serif', serif" font-size="102%">λ</tspan></text>
<text x="122.65" y="457.90" font-size="15.80" text-anchor="middle" font-weight="normal">100</text>
<text x="205.80" y="491.40" font-size="15.80" text-anchor="middle" font-weight="normal">0.1</text>
<text x="268.40" y="521.00" font-size="15.80" text-anchor="middle" font-weight="normal">1.7</text>
<text x="462.02" y="399.71" font-size="20.40" text-anchor="end" font-weight="normal">4</text>
<text x="462.02" y="470.81" font-size="20.40" text-anchor="end" font-weight="normal">2</text>
<text x="462.02" y="541.92" font-size="20.40" text-anchor="end" font-weight="normal">0</text>
<text x="462.02" y="613.02" font-size="20.40" text-anchor="end" font-weight="normal">-2</text>
<text x="462.02" y="684.13" font-size="20.40" text-anchor="end" font-weight="normal">-4</text>
<text x="484.73" y="711.50" font-size="20.40" text-anchor="middle" font-weight="normal">-6</text>
<text x="554.85" y="711.50" font-size="20.40" text-anchor="middle" font-weight="normal">-4</text>
<text x="624.96" y="711.50" font-size="20.40" text-anchor="middle" font-weight="normal">-2</text>
<text x="695.58" y="711.50" font-size="20.40" text-anchor="middle" font-weight="normal">0</text>
<text x="765.70" y="711.50" font-size="20.40" text-anchor="middle" font-weight="normal">2</text>
<text x="617.20" y="733.00" font-size="21.01" text-anchor="middle" font-weight="normal">Re<tspan font-family="'Liberation Serif', serif" font-size="102%">λ</tspan></text>
<text x="427.80" y="533.90" font-size="21.01" text-anchor="middle" font-weight="normal" transform="rotate(-90 427.8 533.9)">Im<tspan font-family="'Liberation Serif', serif" font-size="102%">λ</tspan></text>
<text x="527.85" y="484.60" font-size="17.20" text-anchor="middle" font-weight="normal"><tspan font-family="'Liberation Serif', serif" font-size="106%">β</tspan>=10<tspan font-family="'Liberation Serif', serif" font-size="113%">α</tspan></text>
<text x="616.60" y="514.50" font-size="17.20" text-anchor="middle" font-weight="normal"><tspan font-family="'Liberation Serif', serif" font-size="106%">β</tspan>=<tspan font-family="'Liberation Serif', serif" font-size="113%">α</tspan></text>
</g>
</svg>
</body></html>
